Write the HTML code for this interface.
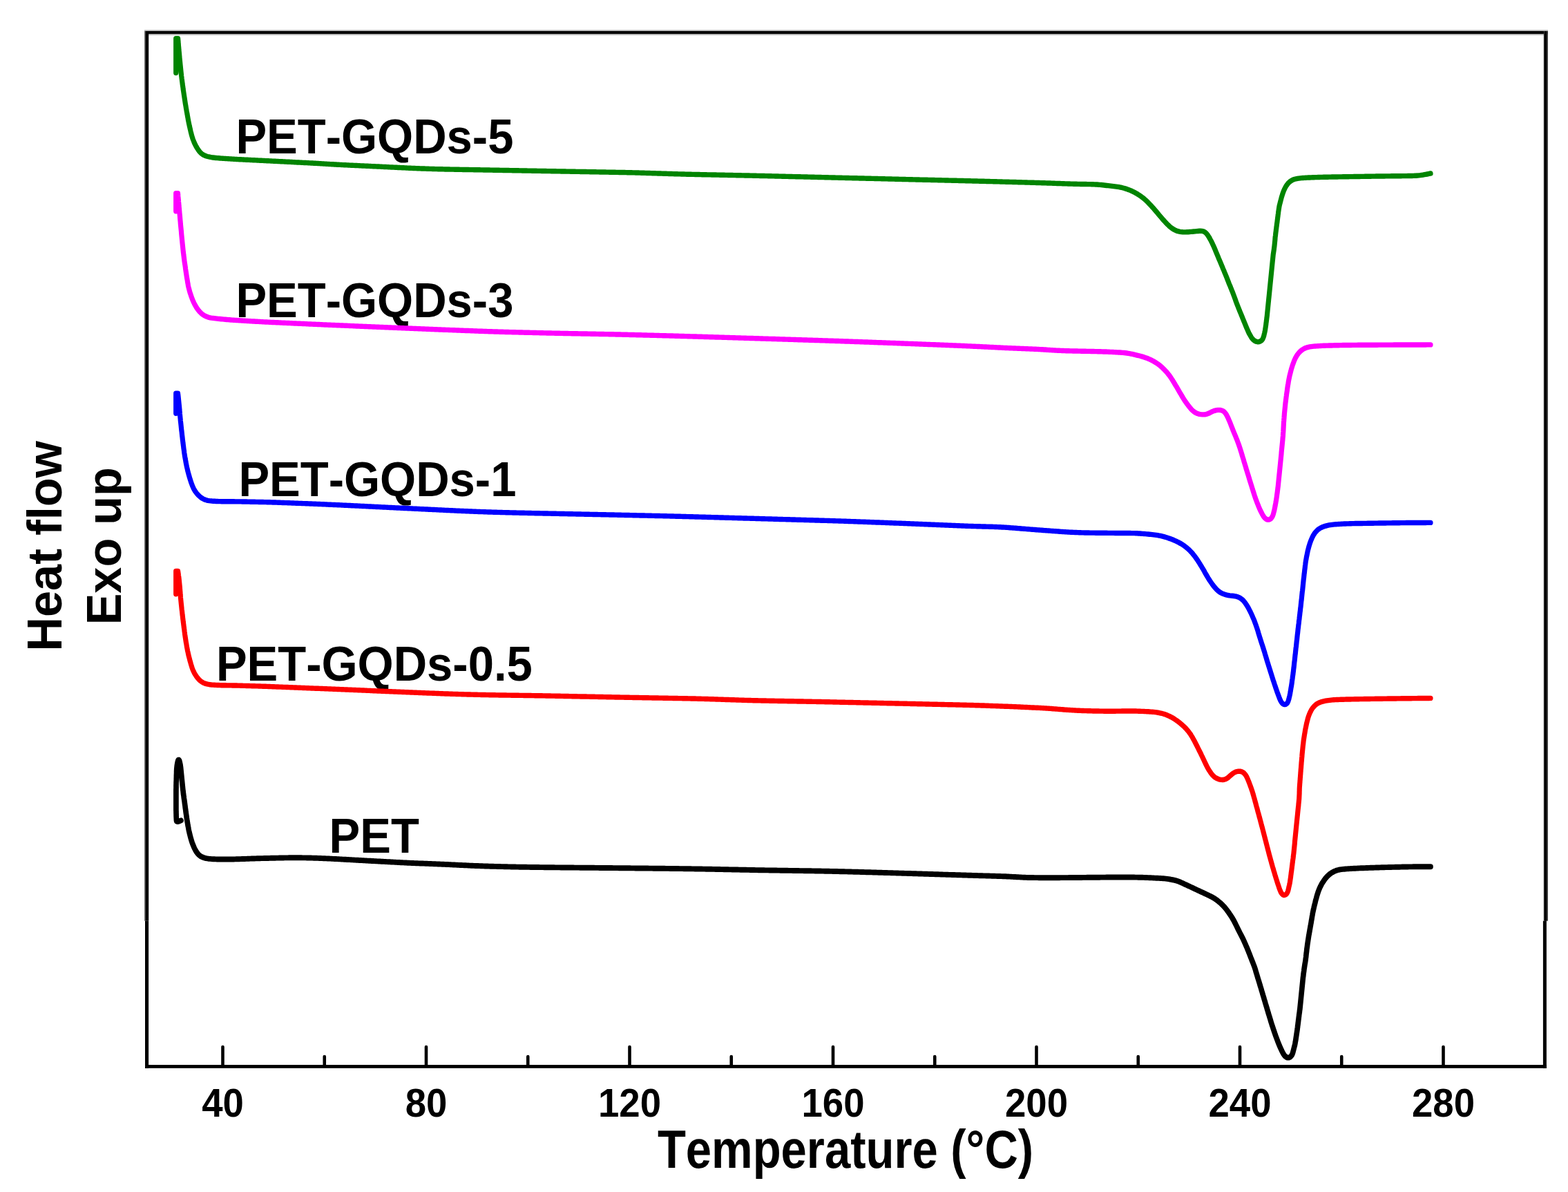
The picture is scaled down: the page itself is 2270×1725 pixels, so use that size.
<!DOCTYPE html>
<html lang="en">
<head>
<meta charset="utf-8">
<title>DSC heating curves of PET and PET-GQDs</title>
<style>
html,body{margin:0;padding:0;background:#fff;}
body{width:2270px;height:1725px;overflow:hidden;font-family:"Liberation Sans",Arial,sans-serif;}
svg{display:block;}
svg text{font-family:"Liberation Sans",Arial,sans-serif;font-weight:bold;fill:#000;font-kerning:none;}
</style>
</head>
<body>
<svg xmlns="http://www.w3.org/2000/svg" width="2270" height="1725" viewBox="0 0 2270 1725">
<rect x="0" y="0" width="2270" height="1725" fill="#ffffff"/>
<text transform="translate(341.40 221.60) scale(1.0000 1.0400)" font-size="67.00" text-anchor="start" >PET-GQDs-5</text>
<text transform="translate(341.40 459.20) scale(1.0000 1.0400)" font-size="67.00" text-anchor="start" >PET-GQDs-3</text>
<text transform="translate(345.40 717.60) scale(1.0000 1.0400)" font-size="67.00" text-anchor="start" >PET-GQDs-1</text>
<text transform="translate(312.90 985.20) scale(1.0000 1.0400)" font-size="67.00" text-anchor="start" >PET-GQDs-0.5</text>
<text transform="translate(476.60 1233.90) scale(1.0000 1.0400)" font-size="67.00" text-anchor="start" >PET</text>
<text transform="translate(322.50 1616.20) scale(0.9750 1.0400)" font-size="56.00" text-anchor="middle" >40</text>
<text transform="translate(617.00 1616.20) scale(0.9750 1.0400)" font-size="56.00" text-anchor="middle" >80</text>
<text transform="translate(911.50 1616.20) scale(0.9750 1.0400)" font-size="56.00" text-anchor="middle" >120</text>
<text transform="translate(1206.00 1616.20) scale(0.9750 1.0400)" font-size="56.00" text-anchor="middle" >160</text>
<text transform="translate(1500.50 1616.20) scale(0.9750 1.0400)" font-size="56.00" text-anchor="middle" >200</text>
<text transform="translate(1795.00 1616.20) scale(0.9750 1.0400)" font-size="56.00" text-anchor="middle" >240</text>
<text transform="translate(2089.50 1616.20) scale(0.9750 1.0400)" font-size="56.00" text-anchor="middle" >280</text>
<text transform="translate(1224.00 1689.50) scale(1.0000 1.1700)" font-size="67.00" text-anchor="middle" >Temperature (°C)</text>
<text transform="translate(88.60 790.30) rotate(-90) scale(1.0000 1.0350)" font-size="68.50" text-anchor="middle" >Heat flow</text>
<text transform="translate(175.20 790.20) rotate(-90) scale(1.0000 1.0350)" font-size="68.50" text-anchor="middle" >Exo up</text>
<defs><filter id="soft" x="-2%%" y="-2%%" width="104%%" height="104%%"><feGaussianBlur stdDeviation="0.75"/></filter></defs>
<g filter="url(#soft)"><g transform="scale(1 1.0300)" fill="none" stroke-width="7.20" stroke-linecap="round" stroke-linejoin="round">
<path d="M262.0 1152.82 L259.1 1153.95 L256.8 1154.50 L255.6 1153.84 L255.4 1151.93 L255.3 1150.01 L255.2 1148.08 L255.1 1146.15 L255.1 1144.21 L255.0 1142.27 L255.0 1140.32 L254.9 1138.38 L254.9 1136.44 L254.9 1134.50 L254.9 1132.56 L254.9 1130.62 L254.9 1128.67 L254.9 1126.73 L254.9 1124.79 L254.9 1122.85 L254.9 1120.91 L254.9 1118.97 L254.9 1117.02 L254.9 1115.08 L254.9 1113.14 L254.9 1111.20 L254.9 1109.26 L255.0 1107.32 L255.0 1105.37 L255.0 1103.43 L255.1 1101.49 L255.1 1099.55 L255.2 1097.61 L255.3 1095.67 L255.3 1093.73 L255.4 1091.79 L255.4 1089.84 L255.5 1087.90 L255.6 1085.97 L255.6 1084.03 L255.7 1082.09 L255.8 1080.15 L256.0 1078.21 L256.2 1076.26 L256.5 1074.25 L256.9 1072.21 L257.3 1070.22 L257.8 1068.57 L258.3 1067.60 L258.9 1067.56 L259.5 1068.46 L260.0 1070.09 L260.5 1072.15 L261.0 1074.35 L261.3 1076.51 L261.6 1078.57 L261.8 1080.55 L262.0 1082.50 L262.2 1084.43 L262.4 1086.36 L262.6 1088.29 L262.8 1090.23 L263.0 1092.16 L263.2 1094.09 L263.4 1096.02 L263.6 1097.96 L263.8 1099.89 L264.0 1101.82 L264.2 1103.75 L264.4 1105.69 L264.6 1107.62 L264.8 1109.55 L265.1 1111.48 L265.3 1113.40 L265.5 1115.33 L265.8 1117.26 L266.1 1119.18 L266.3 1121.11 L266.6 1123.03 L266.9 1124.95 L267.2 1126.88 L267.4 1128.80 L267.7 1130.72 L268.0 1132.65 L268.2 1134.57 L268.5 1136.50 L268.8 1138.42 L269.0 1140.35 L269.3 1142.27 L269.6 1144.19 L269.9 1146.12 L270.1 1148.04 L270.4 1149.96 L270.7 1151.88 L271.0 1153.80 L271.4 1155.71 L271.7 1157.63 L272.0 1159.54 L272.4 1161.45 L272.8 1163.36 L273.1 1165.27 L273.5 1167.17 L274.0 1169.07 L274.4 1170.96 L274.9 1172.85 L275.4 1174.73 L275.9 1176.61 L276.4 1178.48 L277.0 1180.34 L277.6 1182.19 L278.2 1184.03 L278.9 1185.85 L279.7 1187.66 L280.4 1189.46 L281.2 1191.23 L282.1 1192.97 L283.0 1194.68 L284.1 1196.34 L285.2 1197.96 L286.4 1199.50 L287.8 1200.92 L289.3 1202.19 L290.9 1203.27 L292.7 1204.16 L294.6 1204.88 L296.5 1205.45 L298.4 1205.90 L300.4 1206.24 L302.4 1206.50 L304.4 1206.71 L306.4 1206.88 L308.3 1207.01 L310.3 1207.11 L312.3 1207.18 L314.3 1207.23 L316.3 1207.26 L318.3 1207.29 L320.3 1207.32 L322.3 1207.34 L324.3 1207.35 L326.3 1207.36 L328.3 1207.36 L330.3 1207.34 L332.3 1207.32 L334.3 1207.29 L336.3 1207.25 L338.3 1207.20 L340.3 1207.15 L342.3 1207.09 L344.3 1207.03 L346.3 1206.97 L348.3 1206.91 L350.3 1206.85 L352.3 1206.78 L354.3 1206.72 L356.3 1206.65 L358.3 1206.59 L360.3 1206.52 L362.3 1206.45 L364.3 1206.39 L366.3 1206.33 L368.3 1206.26 L370.3 1206.20 L372.3 1206.14 L374.3 1206.09 L376.3 1206.03 L378.3 1205.98 L380.3 1205.93 L382.3 1205.88 L384.3 1205.83 L386.3 1205.78 L388.3 1205.74 L390.3 1205.69 L392.3 1205.64 L394.3 1205.60 L396.3 1205.55 L398.3 1205.51 L400.3 1205.47 L402.3 1205.43 L404.3 1205.39 L406.3 1205.35 L408.3 1205.32 L410.3 1205.28 L412.3 1205.25 L414.3 1205.23 L416.3 1205.20 L418.3 1205.18 L420.3 1205.16 L422.3 1205.15 L424.3 1205.14 L426.3 1205.13 L428.3 1205.13 L430.3 1205.13 L432.3 1205.14 L434.3 1205.15 L436.3 1205.16 L438.3 1205.19 L440.3 1205.21 L442.3 1205.24 L444.3 1205.28 L446.3 1205.32 L448.3 1205.36 L450.3 1205.41 L452.3 1205.46 L454.3 1205.52 L456.3 1205.58 L458.3 1205.64 L460.3 1205.71 L462.3 1205.78 L464.3 1205.85 L466.3 1205.93 L468.3 1206.01 L470.3 1206.09 L472.3 1206.18 L474.3 1206.27 L476.3 1206.36 L478.3 1206.45 L480.3 1206.55 L482.3 1206.65 L484.3 1206.75 L486.3 1206.85 L488.3 1206.95 L490.3 1207.06 L492.3 1207.16 L494.3 1207.27 L496.3 1207.38 L498.3 1207.48 L500.3 1207.59 L502.3 1207.70 L504.3 1207.81 L506.3 1207.91 L508.3 1208.02 L510.3 1208.13 L512.3 1208.24 L514.3 1208.35 L516.2 1208.45 L518.2 1208.56 L520.2 1208.67 L522.2 1208.78 L524.2 1208.89 L526.2 1208.99 L528.2 1209.10 L530.2 1209.21 L532.2 1209.32 L534.2 1209.42 L536.2 1209.53 L538.2 1209.63 L540.2 1209.74 L542.2 1209.85 L544.2 1209.95 L546.2 1210.06 L548.2 1210.16 L550.2 1210.27 L552.2 1210.37 L554.2 1210.48 L556.2 1210.58 L558.2 1210.69 L560.2 1210.79 L562.2 1210.90 L564.2 1211.00 L566.2 1211.10 L568.2 1211.21 L570.2 1211.31 L572.2 1211.42 L574.2 1211.52 L576.2 1211.62 L578.2 1211.72 L580.2 1211.82 L582.2 1211.92 L584.2 1212.02 L586.1 1212.12 L588.1 1212.21 L590.1 1212.31 L592.1 1212.40 L594.1 1212.49 L596.1 1212.57 L598.1 1212.66 L600.1 1212.74 L602.1 1212.82 L604.1 1212.89 L606.1 1212.97 L608.1 1213.04 L610.1 1213.11 L612.1 1213.19 L614.1 1213.26 L616.1 1213.33 L618.1 1213.40 L620.1 1213.47 L622.1 1213.54 L624.1 1213.61 L626.1 1213.69 L628.1 1213.76 L630.1 1213.84 L632.1 1213.92 L634.1 1214.00 L636.1 1214.08 L638.1 1214.17 L640.1 1214.25 L642.1 1214.34 L644.1 1214.43 L646.1 1214.53 L648.1 1214.62 L650.1 1214.71 L652.1 1214.81 L654.1 1214.90 L656.1 1215.00 L658.1 1215.09 L660.1 1215.19 L662.1 1215.28 L664.1 1215.38 L666.1 1215.47 L668.1 1215.57 L670.1 1215.66 L672.1 1215.75 L674.1 1215.85 L676.1 1215.93 L678.1 1216.02 L680.1 1216.11 L682.1 1216.19 L684.1 1216.27 L686.1 1216.35 L688.1 1216.43 L690.1 1216.50 L692.1 1216.58 L694.1 1216.65 L696.1 1216.72 L698.1 1216.78 L700.1 1216.85 L702.0 1216.91 L704.0 1216.98 L706.0 1217.04 L708.0 1217.10 L710.0 1217.16 L712.0 1217.22 L714.0 1217.27 L716.0 1217.33 L718.0 1217.38 L720.0 1217.43 L722.0 1217.48 L724.0 1217.53 L726.0 1217.58 L728.0 1217.63 L730.0 1217.68 L732.0 1217.72 L734.0 1217.77 L736.0 1217.81 L738.0 1217.85 L740.0 1217.89 L742.0 1217.93 L744.0 1217.97 L746.0 1218.01 L748.0 1218.05 L750.0 1218.08 L752.0 1218.12 L754.0 1218.15 L756.0 1218.19 L758.0 1218.22 L760.0 1218.25 L762.0 1218.28 L764.0 1218.31 L766.0 1218.34 L768.0 1218.37 L770.0 1218.40 L772.0 1218.43 L774.0 1218.45 L776.0 1218.48 L778.0 1218.50 L780.0 1218.53 L782.0 1218.55 L784.0 1218.57 L786.0 1218.60 L788.0 1218.62 L790.0 1218.64 L792.0 1218.66 L794.0 1218.68 L796.0 1218.70 L798.0 1218.72 L800.0 1218.74 L802.0 1218.76 L804.0 1218.78 L806.0 1218.80 L808.0 1218.82 L810.0 1218.84 L812.0 1218.85 L814.0 1218.87 L816.0 1218.89 L818.0 1218.91 L820.0 1218.93 L822.0 1218.94 L824.0 1218.96 L826.0 1218.98 L828.0 1218.99 L830.0 1219.01 L832.0 1219.03 L834.0 1219.04 L836.0 1219.06 L838.0 1219.08 L840.0 1219.09 L842.0 1219.11 L844.0 1219.13 L846.0 1219.14 L848.0 1219.16 L850.0 1219.18 L852.0 1219.19 L854.0 1219.21 L856.0 1219.23 L858.0 1219.24 L860.0 1219.26 L862.0 1219.28 L864.0 1219.29 L866.0 1219.31 L868.0 1219.33 L870.0 1219.35 L872.0 1219.36 L874.0 1219.38 L876.0 1219.40 L878.0 1219.42 L880.0 1219.43 L882.0 1219.45 L884.0 1219.47 L886.0 1219.49 L888.0 1219.51 L890.0 1219.52 L892.0 1219.54 L894.0 1219.56 L896.0 1219.58 L898.0 1219.60 L900.0 1219.62 L902.0 1219.64 L904.0 1219.66 L906.0 1219.68 L908.0 1219.70 L910.0 1219.72 L912.0 1219.74 L914.0 1219.76 L916.0 1219.78 L918.0 1219.80 L920.0 1219.82 L922.0 1219.84 L924.0 1219.85 L926.0 1219.87 L928.0 1219.89 L930.0 1219.91 L932.0 1219.93 L934.0 1219.95 L936.0 1219.97 L938.0 1219.99 L940.0 1220.01 L942.0 1220.03 L944.0 1220.05 L946.0 1220.07 L948.0 1220.09 L950.0 1220.11 L952.0 1220.13 L954.0 1220.15 L956.0 1220.17 L958.0 1220.19 L960.0 1220.21 L962.0 1220.23 L964.0 1220.26 L966.0 1220.28 L968.0 1220.30 L970.0 1220.32 L972.0 1220.35 L974.0 1220.37 L976.0 1220.39 L978.0 1220.42 L980.0 1220.44 L982.0 1220.46 L984.0 1220.49 L986.0 1220.51 L988.0 1220.54 L990.0 1220.57 L992.0 1220.59 L994.0 1220.62 L996.0 1220.65 L998.0 1220.67 L1000.0 1220.70 L1002.0 1220.73 L1004.0 1220.76 L1006.0 1220.79 L1008.0 1220.82 L1010.0 1220.85 L1012.0 1220.88 L1014.0 1220.92 L1016.0 1220.95 L1018.0 1220.98 L1020.0 1221.02 L1022.0 1221.05 L1024.0 1221.09 L1026.0 1221.12 L1028.0 1221.16 L1030.0 1221.20 L1032.0 1221.23 L1034.0 1221.27 L1036.0 1221.31 L1038.0 1221.35 L1040.0 1221.38 L1042.0 1221.42 L1044.0 1221.46 L1046.0 1221.50 L1048.0 1221.54 L1050.0 1221.58 L1052.0 1221.62 L1054.0 1221.66 L1056.0 1221.69 L1058.0 1221.73 L1060.0 1221.77 L1062.0 1221.81 L1064.0 1221.85 L1066.0 1221.89 L1068.0 1221.93 L1070.0 1221.97 L1072.0 1222.01 L1074.0 1222.05 L1076.0 1222.08 L1078.0 1222.12 L1080.0 1222.16 L1082.0 1222.20 L1084.0 1222.24 L1086.0 1222.27 L1088.0 1222.31 L1090.0 1222.35 L1092.0 1222.38 L1094.0 1222.42 L1096.0 1222.45 L1098.0 1222.49 L1100.0 1222.52 L1102.0 1222.56 L1104.0 1222.59 L1106.0 1222.62 L1108.0 1222.66 L1110.0 1222.69 L1112.0 1222.72 L1114.0 1222.75 L1116.0 1222.78 L1118.0 1222.81 L1120.0 1222.84 L1122.0 1222.87 L1124.0 1222.90 L1126.0 1222.93 L1128.0 1222.96 L1130.0 1222.99 L1132.0 1223.02 L1134.0 1223.05 L1136.0 1223.07 L1138.0 1223.10 L1140.0 1223.13 L1142.0 1223.16 L1144.0 1223.19 L1146.0 1223.21 L1148.0 1223.24 L1150.0 1223.27 L1152.0 1223.30 L1154.0 1223.33 L1156.0 1223.36 L1158.0 1223.39 L1160.0 1223.41 L1162.0 1223.44 L1164.0 1223.47 L1166.0 1223.50 L1168.0 1223.53 L1170.0 1223.57 L1172.0 1223.60 L1174.0 1223.63 L1176.0 1223.66 L1178.0 1223.69 L1180.0 1223.73 L1182.0 1223.76 L1184.0 1223.79 L1186.0 1223.83 L1188.0 1223.86 L1190.0 1223.90 L1192.0 1223.94 L1194.0 1223.97 L1196.0 1224.01 L1198.0 1224.05 L1200.0 1224.09 L1202.0 1224.13 L1204.0 1224.17 L1206.0 1224.21 L1208.0 1224.25 L1210.0 1224.30 L1212.0 1224.34 L1214.0 1224.39 L1216.0 1224.43 L1218.0 1224.48 L1220.0 1224.52 L1222.0 1224.57 L1224.0 1224.62 L1226.0 1224.67 L1228.0 1224.72 L1230.0 1224.77 L1232.0 1224.82 L1234.0 1224.87 L1236.0 1224.92 L1238.0 1224.97 L1240.0 1225.02 L1242.0 1225.07 L1244.0 1225.13 L1246.0 1225.18 L1248.0 1225.23 L1250.0 1225.29 L1252.0 1225.34 L1254.0 1225.40 L1256.0 1225.45 L1258.0 1225.51 L1260.0 1225.56 L1262.0 1225.62 L1264.0 1225.68 L1266.0 1225.73 L1268.0 1225.79 L1270.0 1225.85 L1272.0 1225.91 L1274.0 1225.96 L1276.0 1226.02 L1278.0 1226.08 L1280.0 1226.14 L1282.0 1226.20 L1284.0 1226.26 L1286.0 1226.31 L1288.0 1226.37 L1290.0 1226.43 L1292.0 1226.49 L1294.0 1226.55 L1296.0 1226.61 L1298.0 1226.67 L1300.0 1226.73 L1302.0 1226.79 L1304.0 1226.85 L1306.0 1226.91 L1308.0 1226.97 L1310.0 1227.03 L1312.0 1227.09 L1314.0 1227.15 L1316.0 1227.21 L1318.0 1227.27 L1320.0 1227.33 L1322.0 1227.39 L1324.0 1227.45 L1326.0 1227.51 L1328.0 1227.57 L1330.0 1227.63 L1332.0 1227.69 L1334.0 1227.75 L1336.0 1227.81 L1338.0 1227.87 L1340.0 1227.93 L1342.0 1227.99 L1344.0 1228.06 L1346.0 1228.12 L1348.0 1228.18 L1350.0 1228.24 L1352.0 1228.30 L1354.0 1228.36 L1356.0 1228.42 L1358.0 1228.48 L1360.0 1228.54 L1362.0 1228.60 L1364.0 1228.66 L1366.0 1228.73 L1368.0 1228.79 L1370.0 1228.85 L1372.0 1228.91 L1374.0 1228.97 L1376.0 1229.03 L1378.0 1229.09 L1380.0 1229.15 L1381.9 1229.21 L1383.9 1229.27 L1385.9 1229.33 L1387.9 1229.39 L1389.9 1229.45 L1391.9 1229.51 L1393.9 1229.57 L1395.9 1229.63 L1397.9 1229.69 L1399.9 1229.75 L1401.9 1229.81 L1403.9 1229.87 L1405.9 1229.93 L1407.9 1229.98 L1409.9 1230.04 L1411.9 1230.10 L1413.9 1230.15 L1415.9 1230.21 L1417.9 1230.27 L1419.9 1230.32 L1421.9 1230.38 L1423.9 1230.43 L1425.9 1230.49 L1427.9 1230.54 L1429.9 1230.60 L1431.9 1230.66 L1433.9 1230.71 L1435.9 1230.77 L1437.9 1230.82 L1439.9 1230.88 L1441.9 1230.93 L1443.9 1230.99 L1445.9 1231.05 L1447.9 1231.11 L1449.9 1231.17 L1451.9 1231.24 L1453.9 1231.31 L1455.9 1231.39 L1457.9 1231.48 L1459.9 1231.58 L1461.9 1231.68 L1463.9 1231.78 L1465.9 1231.89 L1467.9 1232.00 L1469.9 1232.11 L1471.9 1232.22 L1473.9 1232.33 L1475.9 1232.44 L1477.9 1232.54 L1479.9 1232.63 L1481.9 1232.72 L1483.9 1232.80 L1485.9 1232.87 L1487.9 1232.93 L1489.9 1232.98 L1491.9 1233.02 L1493.9 1233.06 L1495.9 1233.09 L1497.9 1233.12 L1499.9 1233.14 L1501.9 1233.16 L1503.9 1233.18 L1505.9 1233.19 L1507.9 1233.20 L1509.9 1233.21 L1511.9 1233.22 L1513.9 1233.22 L1515.9 1233.23 L1517.9 1233.23 L1519.9 1233.23 L1521.9 1233.22 L1523.9 1233.22 L1525.9 1233.21 L1527.9 1233.20 L1529.9 1233.20 L1531.9 1233.19 L1533.9 1233.18 L1535.9 1233.16 L1537.9 1233.15 L1539.9 1233.14 L1541.9 1233.13 L1543.9 1233.11 L1545.9 1233.10 L1547.9 1233.09 L1549.9 1233.07 L1551.9 1233.05 L1553.9 1233.04 L1555.9 1233.02 L1557.9 1233.00 L1559.9 1232.98 L1561.9 1232.96 L1563.9 1232.94 L1565.9 1232.93 L1567.9 1232.90 L1569.9 1232.88 L1571.9 1232.86 L1573.9 1232.84 L1575.9 1232.82 L1577.9 1232.80 L1579.9 1232.78 L1581.9 1232.76 L1583.9 1232.75 L1585.9 1232.73 L1587.9 1232.71 L1589.9 1232.69 L1591.9 1232.68 L1593.9 1232.66 L1595.9 1232.65 L1597.9 1232.63 L1599.9 1232.62 L1601.9 1232.61 L1603.9 1232.59 L1605.9 1232.58 L1607.9 1232.57 L1609.9 1232.56 L1611.9 1232.55 L1613.9 1232.54 L1615.9 1232.53 L1617.9 1232.52 L1619.9 1232.51 L1621.9 1232.51 L1623.9 1232.51 L1625.9 1232.51 L1627.9 1232.51 L1629.9 1232.51 L1631.9 1232.52 L1633.9 1232.53 L1635.9 1232.54 L1637.9 1232.56 L1639.9 1232.58 L1641.9 1232.60 L1643.9 1232.63 L1645.9 1232.66 L1647.9 1232.70 L1649.9 1232.74 L1651.9 1232.78 L1653.9 1232.84 L1655.9 1232.90 L1657.9 1232.97 L1659.9 1233.04 L1661.9 1233.13 L1663.9 1233.22 L1665.9 1233.31 L1667.9 1233.40 L1669.9 1233.49 L1671.9 1233.58 L1673.9 1233.68 L1675.9 1233.77 L1677.9 1233.87 L1679.9 1233.98 L1681.9 1234.09 L1683.9 1234.23 L1685.8 1234.39 L1687.8 1234.60 L1689.8 1234.84 L1691.8 1235.13 L1693.8 1235.45 L1695.7 1235.79 L1697.7 1236.17 L1699.7 1236.57 L1701.6 1237.03 L1703.6 1237.55 L1705.4 1238.16 L1707.3 1238.84 L1709.2 1239.59 L1711.0 1240.39 L1712.8 1241.20 L1714.6 1242.02 L1716.4 1242.84 L1718.2 1243.66 L1720.0 1244.48 L1721.9 1245.30 L1723.7 1246.12 L1725.5 1246.94 L1727.3 1247.77 L1729.1 1248.59 L1730.9 1249.41 L1732.7 1250.23 L1734.5 1251.05 L1736.4 1251.87 L1738.2 1252.68 L1740.0 1253.50 L1741.8 1254.31 L1743.6 1255.13 L1745.4 1255.95 L1747.2 1256.78 L1749.0 1257.62 L1750.8 1258.47 L1752.6 1259.35 L1754.4 1260.25 L1756.1 1261.18 L1757.9 1262.17 L1759.5 1263.22 L1761.2 1264.34 L1762.8 1265.51 L1764.3 1266.73 L1765.9 1267.98 L1767.4 1269.28 L1768.8 1270.61 L1770.3 1271.97 L1771.6 1273.38 L1773.0 1274.83 L1774.3 1276.31 L1775.5 1277.83 L1776.7 1279.37 L1777.9 1280.93 L1779.1 1282.51 L1780.2 1284.11 L1781.3 1285.72 L1782.4 1287.35 L1783.5 1289.00 L1784.5 1290.66 L1785.5 1292.34 L1786.5 1294.05 L1787.4 1295.77 L1788.3 1297.51 L1789.2 1299.25 L1790.1 1300.99 L1791.0 1302.72 L1791.8 1304.46 L1792.7 1306.20 L1793.6 1307.93 L1794.5 1309.67 L1795.4 1311.40 L1796.3 1313.13 L1797.3 1314.86 L1798.2 1316.59 L1799.1 1318.33 L1799.9 1320.07 L1800.8 1321.83 L1801.6 1323.59 L1802.4 1325.37 L1803.2 1327.15 L1804.0 1328.94 L1804.8 1330.72 L1805.6 1332.51 L1806.3 1334.31 L1807.1 1336.10 L1807.8 1337.91 L1808.6 1339.71 L1809.3 1341.52 L1810.0 1343.33 L1810.7 1345.14 L1811.5 1346.96 L1812.2 1348.77 L1812.9 1350.58 L1813.7 1352.38 L1814.4 1354.19 L1815.1 1356.00 L1815.8 1357.81 L1816.5 1359.65 L1817.1 1361.49 L1817.7 1363.35 L1818.2 1365.21 L1818.8 1367.07 L1819.4 1368.93 L1820.0 1370.79 L1820.5 1372.65 L1821.1 1374.51 L1821.7 1376.36 L1822.3 1378.22 L1822.9 1380.08 L1823.5 1381.94 L1824.0 1383.80 L1824.6 1385.66 L1825.2 1387.52 L1825.8 1389.38 L1826.3 1391.24 L1826.9 1393.10 L1827.5 1394.96 L1828.0 1396.82 L1828.6 1398.68 L1829.2 1400.55 L1829.8 1402.41 L1830.3 1404.27 L1830.9 1406.13 L1831.5 1407.99 L1832.0 1409.85 L1832.6 1411.71 L1833.2 1413.57 L1833.8 1415.43 L1834.3 1417.29 L1834.9 1419.15 L1835.5 1421.01 L1836.0 1422.87 L1836.6 1424.73 L1837.2 1426.59 L1837.8 1428.45 L1838.4 1430.31 L1839.0 1432.16 L1839.5 1434.02 L1840.1 1435.88 L1840.7 1437.73 L1841.3 1439.58 L1841.9 1441.43 L1842.6 1443.28 L1843.2 1445.12 L1843.8 1446.96 L1844.5 1448.80 L1845.1 1450.63 L1845.8 1452.47 L1846.4 1454.30 L1847.1 1456.13 L1847.8 1457.95 L1848.5 1459.78 L1849.2 1461.59 L1849.9 1463.41 L1850.6 1465.22 L1851.4 1467.02 L1852.1 1468.82 L1852.9 1470.60 L1853.7 1472.37 L1854.6 1474.13 L1855.4 1475.88 L1856.3 1477.62 L1857.2 1479.32 L1858.2 1480.98 L1859.3 1482.56 L1860.6 1484.00 L1862.1 1485.19 L1863.8 1485.93 L1865.5 1486.05 L1867.2 1485.49 L1868.7 1484.36 L1869.9 1482.86 L1870.8 1481.15 L1871.5 1479.37 L1872.0 1477.54 L1872.5 1475.68 L1873.0 1473.80 L1873.5 1471.92 L1874.0 1470.04 L1874.5 1468.15 L1874.9 1466.25 L1875.2 1464.34 L1875.6 1462.43 L1875.9 1460.52 L1876.2 1458.60 L1876.5 1456.68 L1876.8 1454.76 L1877.1 1452.84 L1877.4 1450.92 L1877.7 1448.99 L1878.0 1447.07 L1878.2 1445.15 L1878.5 1443.22 L1878.7 1441.29 L1879.0 1439.37 L1879.2 1437.44 L1879.5 1435.52 L1879.7 1433.59 L1880.0 1431.66 L1880.2 1429.74 L1880.5 1427.81 L1880.7 1425.88 L1881.0 1423.96 L1881.3 1422.03 L1881.5 1420.10 L1881.8 1418.18 L1882.0 1416.25 L1882.2 1414.32 L1882.4 1412.39 L1882.6 1410.46 L1882.8 1408.53 L1883.0 1406.59 L1883.2 1404.66 L1883.4 1402.73 L1883.6 1400.80 L1883.8 1398.86 L1884.0 1396.93 L1884.2 1395.00 L1884.4 1393.07 L1884.6 1391.14 L1884.8 1389.20 L1885.0 1387.27 L1885.2 1385.34 L1885.4 1383.41 L1885.6 1381.47 L1885.8 1379.54 L1886.0 1377.61 L1886.2 1375.68 L1886.4 1373.75 L1886.7 1371.82 L1886.9 1369.89 L1887.1 1367.96 L1887.4 1366.04 L1887.7 1364.11 L1887.9 1362.19 L1888.2 1360.26 L1888.5 1358.34 L1888.8 1356.42 L1889.1 1354.51 L1889.5 1352.59 L1889.8 1350.68 L1890.1 1348.75 L1890.3 1346.83 L1890.6 1344.90 L1890.8 1342.97 L1891.0 1341.04 L1891.2 1339.11 L1891.5 1337.18 L1891.7 1335.25 L1891.9 1333.33 L1892.2 1331.40 L1892.5 1329.48 L1892.7 1327.55 L1893.0 1325.63 L1893.3 1323.71 L1893.6 1321.79 L1893.9 1319.87 L1894.2 1317.95 L1894.5 1316.03 L1894.8 1314.11 L1895.2 1312.20 L1895.5 1310.29 L1895.9 1308.37 L1896.2 1306.46 L1896.6 1304.55 L1896.9 1302.64 L1897.3 1300.73 L1897.6 1298.81 L1898.0 1296.90 L1898.3 1294.99 L1898.6 1293.07 L1899.0 1291.16 L1899.3 1289.24 L1899.6 1287.33 L1900.0 1285.41 L1900.3 1283.50 L1900.7 1281.60 L1901.1 1279.69 L1901.5 1277.80 L1902.0 1275.90 L1902.4 1274.01 L1902.9 1272.13 L1903.4 1270.24 L1903.9 1268.35 L1904.3 1266.47 L1904.8 1264.59 L1905.4 1262.72 L1905.9 1260.84 L1906.4 1258.97 L1907.0 1257.11 L1907.6 1255.26 L1908.2 1253.42 L1908.9 1251.60 L1909.6 1249.79 L1910.4 1248.00 L1911.2 1246.23 L1912.1 1244.48 L1913.0 1242.76 L1914.0 1241.08 L1915.1 1239.42 L1916.2 1237.80 L1917.3 1236.21 L1918.5 1234.65 L1919.8 1233.15 L1921.1 1231.70 L1922.5 1230.31 L1924.0 1228.99 L1925.5 1227.77 L1927.2 1226.65 L1928.9 1225.63 L1930.6 1224.71 L1932.5 1223.88 L1934.3 1223.16 L1936.2 1222.57 L1938.2 1222.10 L1940.1 1221.75 L1942.1 1221.48 L1944.1 1221.26 L1946.1 1221.06 L1948.1 1220.89 L1950.1 1220.75 L1952.0 1220.62 L1954.0 1220.50 L1956.0 1220.39 L1958.0 1220.29 L1960.0 1220.18 L1962.0 1220.08 L1964.0 1219.99 L1966.0 1219.90 L1968.0 1219.81 L1970.0 1219.73 L1972.0 1219.66 L1974.0 1219.59 L1976.0 1219.52 L1978.0 1219.45 L1980.0 1219.38 L1982.0 1219.32 L1984.0 1219.25 L1986.0 1219.19 L1988.0 1219.12 L1990.0 1219.06 L1992.0 1219.00 L1994.0 1218.94 L1996.0 1218.88 L1998.0 1218.82 L2000.0 1218.77 L2002.0 1218.71 L2004.0 1218.66 L2006.0 1218.60 L2008.0 1218.55 L2010.0 1218.50 L2012.0 1218.45 L2014.0 1218.40 L2016.0 1218.35 L2018.0 1218.30 L2020.0 1218.25 L2022.0 1218.21 L2024.0 1218.16 L2026.0 1218.12 L2028.0 1218.08 L2030.0 1218.04 L2032.0 1218.00 L2034.0 1217.96 L2036.0 1217.92 L2038.0 1217.89 L2040.0 1217.86 L2042.0 1217.83 L2044.0 1217.81 L2046.0 1217.79 L2048.0 1217.77 L2050.0 1217.75 L2052.0 1217.73 L2054.0 1217.72 L2056.0 1217.71 L2058.0 1217.70 L2060.0 1217.69 L2062.0 1217.68 L2064.0 1217.68 L2066.0 1217.67 L2067.9 1217.67 L2069.9 1217.67 L2071.0 1217.67" stroke="#000000" stroke-width="7.7"/>
<path d="M254.7 834.66 L254.7 802.43 L257.6 802.43 L257.9 804.35 L258.2 806.27 L258.4 808.20 L258.7 810.13 L259.0 812.05 L259.2 813.98 L259.4 815.91 L259.6 817.84 L259.8 819.77 L260.0 821.71 L260.2 823.64 L260.4 825.58 L260.5 827.51 L260.7 829.45 L260.8 831.39 L261.0 833.33 L261.1 835.26 L261.3 837.20 L261.4 839.14 L261.6 841.07 L261.8 843.00 L262.0 844.94 L262.2 846.87 L262.4 848.80 L262.6 850.73 L262.8 852.66 L263.0 854.59 L263.2 856.53 L263.5 858.46 L263.7 860.39 L263.9 862.32 L264.1 864.25 L264.4 866.18 L264.6 868.10 L264.8 870.03 L265.1 871.96 L265.3 873.89 L265.6 875.82 L265.8 877.74 L266.1 879.67 L266.3 881.60 L266.6 883.52 L266.9 885.45 L267.1 887.38 L267.4 889.30 L267.6 891.23 L267.9 893.15 L268.2 895.07 L268.5 896.99 L268.8 898.91 L269.1 900.83 L269.4 902.75 L269.8 904.66 L270.1 906.58 L270.4 908.49 L270.8 910.41 L271.2 912.32 L271.5 914.22 L272.0 916.12 L272.4 918.02 L272.8 919.91 L273.3 921.80 L273.8 923.68 L274.3 925.56 L274.8 927.44 L275.3 929.32 L275.9 931.19 L276.4 933.06 L277.0 934.92 L277.6 936.77 L278.2 938.60 L278.9 940.43 L279.7 942.22 L280.5 943.99 L281.4 945.71 L282.4 947.39 L283.5 949.04 L284.6 950.66 L285.8 952.23 L287.1 953.72 L288.4 955.14 L289.9 956.45 L291.5 957.64 L293.2 958.69 L295.0 959.58 L296.8 960.29 L298.7 960.85 L300.7 961.28 L302.7 961.61 L304.6 961.88 L306.6 962.10 L308.6 962.27 L310.6 962.40 L312.6 962.51 L314.6 962.61 L316.6 962.69 L318.6 962.76 L320.6 962.81 L322.6 962.86 L324.6 962.89 L326.6 962.92 L328.6 962.95 L330.6 962.97 L332.6 963.00 L334.6 963.02 L336.6 963.05 L338.6 963.09 L340.6 963.13 L342.6 963.17 L344.6 963.22 L346.6 963.27 L348.6 963.32 L350.6 963.37 L352.6 963.43 L354.6 963.48 L356.6 963.53 L358.6 963.59 L360.6 963.64 L362.6 963.70 L364.6 963.76 L366.6 963.81 L368.6 963.87 L370.6 963.93 L372.6 963.99 L374.6 964.05 L376.6 964.12 L378.6 964.18 L380.6 964.25 L382.6 964.32 L384.6 964.39 L386.6 964.46 L388.6 964.53 L390.6 964.61 L392.6 964.68 L394.6 964.76 L396.6 964.83 L398.6 964.91 L400.6 964.99 L402.6 965.06 L404.6 965.14 L406.6 965.21 L408.6 965.29 L410.6 965.37 L412.6 965.44 L414.6 965.52 L416.6 965.60 L418.6 965.68 L420.6 965.75 L422.6 965.83 L424.6 965.91 L426.6 965.98 L428.6 966.06 L430.6 966.14 L432.6 966.22 L434.6 966.30 L436.6 966.37 L438.6 966.45 L440.6 966.53 L442.6 966.61 L444.6 966.69 L446.6 966.76 L448.6 966.84 L450.6 966.92 L452.6 967.00 L454.6 967.08 L456.6 967.16 L458.6 967.24 L460.6 967.31 L462.6 967.39 L464.6 967.47 L466.6 967.55 L468.6 967.63 L470.6 967.71 L472.6 967.79 L474.6 967.87 L476.6 967.95 L478.6 968.03 L480.6 968.11 L482.6 968.19 L484.6 968.27 L486.6 968.35 L488.6 968.43 L490.6 968.51 L492.6 968.59 L494.5 968.67 L496.5 968.75 L498.5 968.83 L500.5 968.91 L502.5 968.99 L504.5 969.08 L506.5 969.16 L508.5 969.24 L510.5 969.32 L512.5 969.40 L514.5 969.48 L516.5 969.57 L518.5 969.65 L520.5 969.73 L522.5 969.81 L524.5 969.90 L526.5 969.98 L528.5 970.06 L530.5 970.14 L532.5 970.23 L534.5 970.31 L536.5 970.39 L538.5 970.47 L540.5 970.56 L542.5 970.64 L544.5 970.72 L546.5 970.80 L548.5 970.89 L550.5 970.97 L552.5 971.05 L554.5 971.13 L556.5 971.22 L558.5 971.30 L560.5 971.38 L562.5 971.46 L564.5 971.55 L566.5 971.63 L568.5 971.71 L570.5 971.79 L572.5 971.87 L574.5 971.96 L576.5 972.04 L578.5 972.12 L580.5 972.20 L582.5 972.28 L584.5 972.36 L586.5 972.44 L588.5 972.52 L590.5 972.60 L592.5 972.69 L594.5 972.77 L596.5 972.85 L598.5 972.93 L600.5 973.01 L602.5 973.09 L604.5 973.17 L606.5 973.25 L608.5 973.33 L610.5 973.41 L612.5 973.48 L614.5 973.56 L616.5 973.64 L618.5 973.72 L620.5 973.80 L622.5 973.87 L624.5 973.95 L626.5 974.03 L628.5 974.10 L630.5 974.18 L632.5 974.25 L634.5 974.32 L636.5 974.40 L638.5 974.47 L640.5 974.54 L642.5 974.61 L644.5 974.68 L646.5 974.75 L648.5 974.82 L650.5 974.89 L652.5 974.96 L654.5 975.02 L656.5 975.09 L658.5 975.15 L660.5 975.22 L662.5 975.28 L664.5 975.34 L666.5 975.40 L668.5 975.46 L670.5 975.52 L672.5 975.57 L674.5 975.63 L676.5 975.68 L678.5 975.74 L680.5 975.79 L682.5 975.84 L684.5 975.89 L686.5 975.94 L688.5 975.98 L690.5 976.03 L692.5 976.07 L694.5 976.12 L696.5 976.16 L698.5 976.20 L700.5 976.24 L702.5 976.28 L704.5 976.31 L706.5 976.35 L708.5 976.39 L710.5 976.42 L712.5 976.46 L714.5 976.49 L716.5 976.52 L718.5 976.56 L720.5 976.59 L722.5 976.62 L724.5 976.65 L726.5 976.68 L728.5 976.71 L730.5 976.74 L732.5 976.77 L734.5 976.80 L736.5 976.82 L738.5 976.85 L740.5 976.88 L742.5 976.91 L744.5 976.93 L746.5 976.96 L748.5 976.99 L750.5 977.02 L752.5 977.04 L754.5 977.07 L756.5 977.10 L758.5 977.12 L760.5 977.15 L762.5 977.18 L764.5 977.21 L766.5 977.23 L768.5 977.26 L770.5 977.29 L772.5 977.32 L774.5 977.35 L776.5 977.38 L778.5 977.41 L780.5 977.44 L782.5 977.47 L784.5 977.50 L786.5 977.54 L788.5 977.57 L790.5 977.60 L792.5 977.64 L794.5 977.67 L796.5 977.71 L798.5 977.75 L800.5 977.79 L802.5 977.82 L804.5 977.86 L806.5 977.90 L808.5 977.94 L810.5 977.98 L812.5 978.02 L814.5 978.06 L816.5 978.10 L818.5 978.13 L820.5 978.17 L822.5 978.21 L824.5 978.25 L826.5 978.29 L828.5 978.33 L830.5 978.37 L832.5 978.41 L834.5 978.45 L836.5 978.49 L838.5 978.53 L840.5 978.57 L842.5 978.61 L844.5 978.65 L846.5 978.69 L848.5 978.72 L850.5 978.76 L852.5 978.80 L854.5 978.84 L856.5 978.88 L858.5 978.92 L860.5 978.96 L862.5 979.00 L864.5 979.04 L866.5 979.08 L868.5 979.12 L870.5 979.16 L872.5 979.20 L874.5 979.24 L876.5 979.27 L878.5 979.31 L880.5 979.35 L882.5 979.39 L884.5 979.43 L886.5 979.47 L888.5 979.51 L890.5 979.55 L892.5 979.58 L894.5 979.62 L896.5 979.66 L898.5 979.70 L900.5 979.74 L902.5 979.77 L904.5 979.81 L906.5 979.85 L908.5 979.89 L910.5 979.92 L912.5 979.96 L914.5 979.99 L916.5 980.03 L918.5 980.06 L920.5 980.10 L922.5 980.13 L924.5 980.17 L926.5 980.20 L928.5 980.24 L930.5 980.27 L932.5 980.31 L934.5 980.34 L936.5 980.37 L938.5 980.41 L940.5 980.44 L942.5 980.47 L944.5 980.51 L946.5 980.54 L948.5 980.57 L950.5 980.61 L952.5 980.64 L954.5 980.68 L956.5 980.71 L958.5 980.74 L960.5 980.78 L962.5 980.81 L964.5 980.84 L966.5 980.88 L968.5 980.91 L970.5 980.95 L972.5 980.98 L974.5 981.02 L976.5 981.05 L978.5 981.09 L980.5 981.12 L982.5 981.16 L984.5 981.19 L986.5 981.23 L988.5 981.27 L990.5 981.31 L992.5 981.34 L994.5 981.38 L996.5 981.42 L998.5 981.46 L1000.5 981.50 L1002.5 981.54 L1004.5 981.58 L1006.5 981.63 L1008.5 981.68 L1010.5 981.73 L1012.5 981.78 L1014.5 981.83 L1016.5 981.88 L1018.5 981.94 L1020.5 981.99 L1022.5 982.05 L1024.5 982.11 L1026.5 982.17 L1028.5 982.23 L1030.5 982.29 L1032.5 982.35 L1034.5 982.42 L1036.5 982.48 L1038.5 982.54 L1040.5 982.61 L1042.5 982.67 L1044.5 982.74 L1046.5 982.81 L1048.5 982.87 L1050.5 982.94 L1052.5 983.00 L1054.5 983.07 L1056.5 983.14 L1058.5 983.20 L1060.5 983.27 L1062.5 983.33 L1064.5 983.39 L1066.5 983.46 L1068.5 983.52 L1070.5 983.58 L1072.5 983.65 L1074.5 983.71 L1076.5 983.77 L1078.5 983.82 L1080.5 983.88 L1082.5 983.94 L1084.5 983.99 L1086.5 984.05 L1088.5 984.10 L1090.5 984.15 L1092.5 984.20 L1094.5 984.25 L1096.5 984.29 L1098.5 984.34 L1100.5 984.38 L1102.5 984.42 L1104.5 984.46 L1106.5 984.50 L1108.5 984.54 L1110.5 984.58 L1112.5 984.62 L1114.5 984.65 L1116.5 984.69 L1118.5 984.73 L1120.5 984.77 L1122.5 984.80 L1124.5 984.84 L1126.5 984.88 L1128.5 984.91 L1130.5 984.95 L1132.5 984.98 L1134.5 985.02 L1136.5 985.05 L1138.5 985.09 L1140.5 985.12 L1142.5 985.16 L1144.5 985.19 L1146.5 985.23 L1148.5 985.26 L1150.5 985.30 L1152.5 985.33 L1154.5 985.37 L1156.5 985.40 L1158.5 985.44 L1160.5 985.47 L1162.5 985.51 L1164.5 985.54 L1166.5 985.58 L1168.5 985.61 L1170.5 985.65 L1172.5 985.69 L1174.5 985.72 L1176.5 985.76 L1178.5 985.80 L1180.5 985.83 L1182.5 985.87 L1184.5 985.91 L1186.5 985.95 L1188.5 985.99 L1190.5 986.03 L1192.5 986.07 L1194.5 986.11 L1196.5 986.15 L1198.5 986.19 L1200.5 986.24 L1202.5 986.28 L1204.5 986.32 L1206.5 986.36 L1208.5 986.41 L1210.5 986.45 L1212.5 986.49 L1214.5 986.53 L1216.5 986.58 L1218.5 986.62 L1220.5 986.66 L1222.5 986.70 L1224.5 986.75 L1226.5 986.79 L1228.5 986.83 L1230.5 986.87 L1232.5 986.92 L1234.5 986.96 L1236.5 987.00 L1238.5 987.05 L1240.5 987.09 L1242.5 987.13 L1244.5 987.17 L1246.5 987.22 L1248.5 987.26 L1250.5 987.30 L1252.5 987.35 L1254.5 987.39 L1256.5 987.43 L1258.5 987.47 L1260.5 987.52 L1262.5 987.56 L1264.5 987.60 L1266.5 987.65 L1268.5 987.69 L1270.5 987.73 L1272.5 987.78 L1274.5 987.82 L1276.5 987.86 L1278.5 987.91 L1280.5 987.95 L1282.5 987.99 L1284.5 988.04 L1286.5 988.08 L1288.5 988.12 L1290.5 988.17 L1292.5 988.21 L1294.5 988.25 L1296.5 988.30 L1298.5 988.34 L1300.5 988.38 L1302.5 988.43 L1304.5 988.47 L1306.5 988.51 L1308.5 988.56 L1310.5 988.60 L1312.5 988.64 L1314.5 988.69 L1316.5 988.73 L1318.5 988.78 L1320.5 988.82 L1322.5 988.86 L1324.5 988.91 L1326.5 988.95 L1328.5 989.00 L1330.5 989.04 L1332.5 989.08 L1334.5 989.13 L1336.5 989.17 L1338.5 989.22 L1340.5 989.26 L1342.5 989.31 L1344.5 989.35 L1346.5 989.40 L1348.5 989.44 L1350.5 989.49 L1352.5 989.53 L1354.5 989.58 L1356.5 989.62 L1358.5 989.67 L1360.5 989.71 L1362.5 989.76 L1364.5 989.80 L1366.5 989.85 L1368.5 989.89 L1370.5 989.94 L1372.5 989.98 L1374.5 990.03 L1376.5 990.08 L1378.5 990.12 L1380.5 990.17 L1382.5 990.21 L1384.5 990.26 L1386.5 990.31 L1388.5 990.35 L1390.5 990.40 L1392.5 990.44 L1394.5 990.49 L1396.5 990.54 L1398.5 990.58 L1400.5 990.63 L1402.5 990.68 L1404.5 990.73 L1406.5 990.79 L1408.5 990.84 L1410.5 990.90 L1412.5 990.96 L1414.5 991.02 L1416.5 991.08 L1418.5 991.14 L1420.5 991.21 L1422.5 991.27 L1424.5 991.34 L1426.5 991.41 L1428.5 991.48 L1430.5 991.55 L1432.5 991.61 L1434.5 991.68 L1436.5 991.76 L1438.5 991.83 L1440.5 991.90 L1442.5 991.97 L1444.5 992.04 L1446.5 992.11 L1448.5 992.18 L1450.5 992.25 L1452.5 992.32 L1454.5 992.40 L1456.5 992.47 L1458.5 992.55 L1460.5 992.62 L1462.5 992.70 L1464.5 992.78 L1466.5 992.86 L1468.5 992.95 L1470.5 993.03 L1472.5 993.11 L1474.5 993.20 L1476.5 993.28 L1478.5 993.37 L1480.5 993.46 L1482.5 993.55 L1484.5 993.64 L1486.5 993.73 L1488.5 993.82 L1490.5 993.91 L1492.5 994.01 L1494.5 994.10 L1496.5 994.19 L1498.5 994.29 L1500.5 994.38 L1502.5 994.48 L1504.5 994.58 L1506.5 994.68 L1508.5 994.79 L1510.5 994.90 L1512.5 995.02 L1514.5 995.15 L1516.5 995.28 L1518.5 995.41 L1520.4 995.55 L1522.4 995.69 L1524.4 995.84 L1526.4 995.98 L1528.4 996.13 L1530.4 996.28 L1532.4 996.43 L1534.4 996.58 L1536.4 996.73 L1538.4 996.87 L1540.4 997.02 L1542.4 997.16 L1544.4 997.30 L1546.4 997.44 L1548.4 997.57 L1550.4 997.69 L1552.4 997.81 L1554.4 997.93 L1556.4 998.04 L1558.4 998.14 L1560.4 998.24 L1562.4 998.33 L1564.4 998.41 L1566.4 998.49 L1568.4 998.56 L1570.4 998.63 L1572.4 998.70 L1574.4 998.76 L1576.4 998.81 L1578.4 998.86 L1580.4 998.91 L1582.4 998.96 L1584.4 999.00 L1586.4 999.03 L1588.4 999.07 L1590.4 999.10 L1592.4 999.13 L1594.4 999.16 L1596.4 999.19 L1598.4 999.21 L1600.4 999.23 L1602.4 999.24 L1604.4 999.25 L1606.4 999.25 L1608.4 999.25 L1610.4 999.24 L1612.4 999.22 L1614.4 999.21 L1616.4 999.19 L1618.4 999.17 L1620.4 999.14 L1622.4 999.12 L1624.4 999.10 L1626.4 999.08 L1628.4 999.06 L1630.4 999.05 L1632.4 999.03 L1634.4 999.03 L1636.4 999.03 L1638.4 999.03 L1640.4 999.04 L1642.4 999.07 L1644.4 999.10 L1646.4 999.15 L1648.4 999.21 L1650.4 999.27 L1652.4 999.35 L1654.4 999.43 L1656.4 999.53 L1658.4 999.62 L1660.4 999.73 L1662.4 999.83 L1664.4 999.95 L1666.4 1000.08 L1668.4 1000.23 L1670.3 1000.41 L1672.3 1000.63 L1674.3 1000.90 L1676.3 1001.21 L1678.3 1001.56 L1680.2 1001.96 L1682.2 1002.41 L1684.1 1002.93 L1686.0 1003.51 L1687.9 1004.16 L1689.7 1004.88 L1691.6 1005.65 L1693.4 1006.49 L1695.2 1007.38 L1697.0 1008.32 L1698.7 1009.30 L1700.4 1010.33 L1702.0 1011.39 L1703.7 1012.50 L1705.3 1013.65 L1706.9 1014.83 L1708.5 1016.03 L1710.0 1017.27 L1711.5 1018.53 L1713.0 1019.84 L1714.5 1021.18 L1715.9 1022.57 L1717.3 1023.99 L1718.6 1025.45 L1719.9 1026.93 L1721.1 1028.45 L1722.3 1030.01 L1723.5 1031.60 L1724.5 1033.24 L1725.6 1034.90 L1726.6 1036.58 L1727.5 1038.28 L1728.5 1039.99 L1729.5 1041.70 L1730.4 1043.41 L1731.3 1045.14 L1732.2 1046.86 L1733.1 1048.60 L1734.0 1050.33 L1734.9 1052.07 L1735.8 1053.81 L1736.7 1055.55 L1737.6 1057.29 L1738.5 1059.03 L1739.3 1060.78 L1740.2 1062.52 L1741.1 1064.27 L1741.9 1066.03 L1742.8 1067.79 L1743.6 1069.55 L1744.5 1071.31 L1745.3 1073.07 L1746.2 1074.82 L1747.1 1076.56 L1748.0 1078.27 L1749.0 1079.96 L1750.0 1081.63 L1751.1 1083.27 L1752.2 1084.89 L1753.3 1086.48 L1754.6 1088.02 L1755.9 1089.47 L1757.3 1090.82 L1758.8 1092.04 L1760.5 1093.12 L1762.3 1094.01 L1764.2 1094.71 L1766.1 1095.20 L1768.1 1095.51 L1770.0 1095.59 L1772.0 1095.39 L1773.9 1094.85 L1775.6 1094.01 L1777.3 1092.95 L1778.8 1091.75 L1780.3 1090.48 L1781.8 1089.19 L1783.3 1087.92 L1784.9 1086.72 L1786.5 1085.67 L1788.3 1084.80 L1790.1 1084.15 L1792.1 1083.75 L1794.0 1083.62 L1796.0 1083.80 L1797.8 1084.32 L1799.6 1085.19 L1801.1 1086.37 L1802.4 1087.79 L1803.6 1089.36 L1804.6 1091.03 L1805.4 1092.77 L1806.3 1094.53 L1807.0 1096.32 L1807.8 1098.11 L1808.5 1099.92 L1809.2 1101.73 L1809.9 1103.56 L1810.6 1105.39 L1811.3 1107.22 L1811.9 1109.05 L1812.6 1110.89 L1813.2 1112.74 L1813.8 1114.60 L1814.3 1116.46 L1814.9 1118.33 L1815.4 1120.20 L1816.0 1122.07 L1816.5 1123.94 L1817.0 1125.81 L1817.6 1127.69 L1818.1 1129.56 L1818.6 1131.43 L1819.1 1133.31 L1819.7 1135.18 L1820.2 1137.06 L1820.7 1138.93 L1821.2 1140.81 L1821.8 1142.68 L1822.3 1144.55 L1822.8 1146.43 L1823.3 1148.30 L1823.9 1150.17 L1824.4 1152.05 L1824.9 1153.92 L1825.4 1155.80 L1825.9 1157.68 L1826.4 1159.56 L1827.0 1161.44 L1827.5 1163.32 L1828.0 1165.20 L1828.5 1167.08 L1829.0 1168.96 L1829.5 1170.84 L1830.0 1172.72 L1830.5 1174.60 L1831.0 1176.48 L1831.5 1178.36 L1832.0 1180.24 L1832.5 1182.12 L1833.0 1184.00 L1833.5 1185.88 L1834.0 1187.76 L1834.5 1189.64 L1835.0 1191.52 L1835.5 1193.40 L1836.0 1195.28 L1836.5 1197.16 L1837.0 1199.04 L1837.5 1200.91 L1838.0 1202.79 L1838.6 1204.67 L1839.1 1206.54 L1839.6 1208.41 L1840.2 1210.28 L1840.7 1212.15 L1841.2 1214.02 L1841.8 1215.89 L1842.3 1217.76 L1842.9 1219.62 L1843.5 1221.49 L1844.0 1223.35 L1844.6 1225.22 L1845.2 1227.08 L1845.7 1228.94 L1846.3 1230.80 L1846.9 1232.65 L1847.5 1234.51 L1848.1 1236.37 L1848.7 1238.22 L1849.3 1240.07 L1849.9 1241.91 L1850.6 1243.75 L1851.2 1245.59 L1851.8 1247.42 L1852.5 1249.24 L1853.2 1251.04 L1854.0 1252.81 L1854.9 1254.51 L1856.1 1256.03 L1857.4 1257.17 L1859.0 1257.69 L1860.5 1257.45 L1862.0 1256.49 L1863.1 1255.04 L1864.0 1253.34 L1864.7 1251.53 L1865.2 1249.68 L1865.6 1247.80 L1866.0 1245.91 L1866.5 1244.02 L1866.9 1242.11 L1867.3 1240.21 L1867.6 1238.30 L1867.9 1236.38 L1868.2 1234.46 L1868.5 1232.54 L1868.7 1230.61 L1869.0 1228.68 L1869.2 1226.76 L1869.5 1224.83 L1869.8 1222.90 L1870.0 1220.98 L1870.3 1219.05 L1870.5 1217.12 L1870.8 1215.20 L1871.0 1213.27 L1871.3 1211.34 L1871.5 1209.42 L1871.8 1207.49 L1872.1 1205.56 L1872.3 1203.64 L1872.5 1201.71 L1872.8 1199.78 L1873.0 1197.85 L1873.2 1195.92 L1873.4 1193.98 L1873.6 1192.05 L1873.8 1190.12 L1874.0 1188.18 L1874.2 1186.25 L1874.4 1184.32 L1874.5 1182.38 L1874.7 1180.45 L1874.9 1178.52 L1875.1 1176.59 L1875.3 1174.65 L1875.5 1172.72 L1875.7 1170.79 L1875.9 1168.85 L1876.1 1166.92 L1876.3 1164.99 L1876.5 1163.06 L1876.7 1161.12 L1876.9 1159.19 L1877.1 1157.26 L1877.3 1155.32 L1877.5 1153.39 L1877.7 1151.46 L1877.9 1149.53 L1878.1 1147.59 L1878.3 1145.66 L1878.5 1143.73 L1878.7 1141.80 L1878.9 1139.86 L1879.1 1137.93 L1879.3 1136.00 L1879.5 1134.07 L1879.8 1132.14 L1879.9 1130.20 L1880.1 1128.27 L1880.3 1126.34 L1880.5 1124.40 L1880.7 1122.47 L1880.8 1120.53 L1880.9 1118.59 L1881.0 1116.65 L1881.1 1114.71 L1881.1 1112.77 L1881.2 1110.82 L1881.2 1108.88 L1881.3 1106.94 L1881.4 1105.00 L1881.6 1103.07 L1881.7 1101.13 L1881.9 1099.19 L1882.0 1097.26 L1882.2 1095.32 L1882.3 1093.38 L1882.5 1091.44 L1882.6 1089.51 L1882.8 1087.57 L1882.9 1085.63 L1883.1 1083.70 L1883.2 1081.76 L1883.4 1079.83 L1883.6 1077.89 L1883.7 1075.95 L1883.9 1074.02 L1884.0 1072.08 L1884.2 1070.14 L1884.4 1068.21 L1884.5 1066.27 L1884.7 1064.34 L1884.9 1062.40 L1885.0 1060.47 L1885.2 1058.53 L1885.4 1056.60 L1885.6 1054.67 L1885.8 1052.73 L1886.0 1050.80 L1886.2 1048.87 L1886.4 1046.94 L1886.7 1045.01 L1886.9 1043.08 L1887.1 1041.15 L1887.4 1039.23 L1887.7 1037.31 L1888.0 1035.39 L1888.3 1033.47 L1888.6 1031.55 L1889.0 1029.63 L1889.3 1027.71 L1889.6 1025.80 L1890.0 1023.89 L1890.4 1021.98 L1890.8 1020.08 L1891.2 1018.18 L1891.6 1016.29 L1892.1 1014.39 L1892.6 1012.51 L1893.1 1010.63 L1893.6 1008.77 L1894.2 1006.93 L1894.9 1005.10 L1895.6 1003.29 L1896.4 1001.49 L1897.3 999.73 L1898.2 998.01 L1899.2 996.35 L1900.3 994.76 L1901.6 993.24 L1903.0 991.81 L1904.5 990.49 L1906.0 989.30 L1907.7 988.27 L1909.5 987.39 L1911.4 986.64 L1913.3 986.00 L1915.2 985.46 L1917.1 985.02 L1919.1 984.65 L1921.0 984.34 L1923.0 984.07 L1925.0 983.83 L1927.0 983.62 L1929.0 983.43 L1931.0 983.27 L1933.0 983.15 L1935.0 983.05 L1937.0 982.97 L1939.0 982.90 L1941.0 982.82 L1943.0 982.76 L1945.0 982.69 L1947.0 982.64 L1949.0 982.58 L1951.0 982.54 L1953.0 982.50 L1955.0 982.46 L1957.0 982.42 L1959.0 982.38 L1961.0 982.34 L1963.0 982.30 L1965.0 982.27 L1967.0 982.23 L1969.0 982.19 L1971.0 982.16 L1973.0 982.13 L1975.0 982.09 L1977.0 982.06 L1979.0 982.03 L1981.0 982.00 L1983.0 981.98 L1985.0 981.95 L1987.0 981.92 L1989.0 981.89 L1991.0 981.86 L1993.0 981.83 L1995.0 981.81 L1997.0 981.78 L1999.0 981.75 L2001.0 981.73 L2003.0 981.70 L2005.0 981.67 L2007.0 981.65 L2009.0 981.62 L2011.0 981.60 L2013.0 981.57 L2015.0 981.55 L2017.0 981.53 L2019.0 981.50 L2021.0 981.48 L2023.0 981.46 L2025.0 981.44 L2027.0 981.41 L2029.0 981.39 L2031.0 981.37 L2033.0 981.35 L2035.0 981.33 L2037.0 981.30 L2039.0 981.28 L2041.0 981.26 L2043.0 981.24 L2045.0 981.22 L2047.0 981.20 L2049.0 981.18 L2051.0 981.16 L2053.0 981.14 L2055.0 981.12 L2057.0 981.10 L2059.0 981.08 L2061.0 981.06 L2063.0 981.04 L2065.0 981.03 L2066.9 981.01 L2068.9 980.99 L2071.0 980.97" stroke="#ff0000"/>
<path d="M254.7 580.78 L254.7 552.62 L257.5 552.62 L257.7 554.55 L258.0 556.48 L258.2 558.41 L258.4 560.34 L258.6 562.27 L258.8 564.20 L259.0 566.14 L259.2 568.07 L259.4 570.00 L259.6 571.94 L259.8 573.87 L259.9 575.81 L260.1 577.74 L260.3 579.68 L260.4 581.61 L260.6 583.55 L260.8 585.48 L261.0 587.42 L261.2 589.35 L261.3 591.28 L261.6 593.22 L261.8 595.15 L262.0 597.08 L262.2 599.01 L262.4 600.94 L262.6 602.87 L262.8 604.80 L263.1 606.73 L263.3 608.66 L263.5 610.59 L263.7 612.52 L264.0 614.45 L264.2 616.38 L264.4 618.31 L264.7 620.24 L264.9 622.16 L265.2 624.09 L265.4 626.02 L265.7 627.94 L265.9 629.87 L266.2 631.79 L266.5 633.72 L266.7 635.64 L267.0 637.57 L267.3 639.49 L267.6 641.41 L268.0 643.32 L268.3 645.23 L268.7 647.14 L269.0 649.05 L269.4 650.96 L269.8 652.86 L270.2 654.76 L270.6 656.67 L271.1 658.57 L271.5 660.46 L272.0 662.35 L272.5 664.23 L273.0 666.10 L273.6 667.96 L274.1 669.83 L274.7 671.69 L275.3 673.54 L275.9 675.39 L276.5 677.24 L277.2 679.08 L277.9 680.90 L278.6 682.70 L279.4 684.49 L280.2 686.25 L281.2 687.98 L282.2 689.65 L283.3 691.26 L284.5 692.79 L285.8 694.27 L287.2 695.69 L288.6 697.05 L290.1 698.33 L291.7 699.50 L293.4 700.53 L295.2 701.42 L297.1 702.16 L299.0 702.75 L300.9 703.20 L302.9 703.53 L304.9 703.76 L306.8 703.94 L308.8 704.08 L310.8 704.20 L312.8 704.31 L314.8 704.40 L316.8 704.47 L318.8 704.52 L320.8 704.56 L322.8 704.59 L324.8 704.61 L326.8 704.62 L328.8 704.63 L330.8 704.64 L332.8 704.65 L334.8 704.66 L336.8 704.67 L338.8 704.69 L340.8 704.70 L342.8 704.71 L344.8 704.73 L346.8 704.75 L348.8 704.77 L350.8 704.80 L352.8 704.83 L354.8 704.87 L356.8 704.90 L358.8 704.94 L360.8 704.98 L362.8 705.02 L364.8 705.06 L366.8 705.10 L368.8 705.14 L370.8 705.18 L372.8 705.22 L374.8 705.26 L376.8 705.30 L378.8 705.35 L380.8 705.39 L382.8 705.44 L384.8 705.49 L386.8 705.54 L388.8 705.60 L390.8 705.65 L392.8 705.71 L394.8 705.77 L396.8 705.84 L398.8 705.90 L400.8 705.97 L402.8 706.04 L404.8 706.11 L406.8 706.18 L408.8 706.25 L410.8 706.32 L412.8 706.39 L414.8 706.46 L416.8 706.53 L418.8 706.61 L420.8 706.68 L422.8 706.75 L424.8 706.83 L426.8 706.90 L428.8 706.98 L430.8 707.05 L432.8 707.13 L434.8 707.20 L436.8 707.28 L438.8 707.36 L440.8 707.43 L442.8 707.51 L444.8 707.59 L446.8 707.67 L448.8 707.75 L450.8 707.83 L452.8 707.91 L454.8 707.99 L456.8 708.07 L458.8 708.15 L460.8 708.23 L462.8 708.32 L464.8 708.40 L466.8 708.48 L468.8 708.57 L470.8 708.65 L472.8 708.74 L474.8 708.82 L476.8 708.91 L478.8 709.00 L480.8 709.08 L482.8 709.17 L484.8 709.26 L486.8 709.35 L488.8 709.44 L490.8 709.53 L492.8 709.62 L494.8 709.71 L496.8 709.80 L498.8 709.89 L500.8 709.99 L502.8 710.08 L504.8 710.17 L506.8 710.27 L508.8 710.36 L510.8 710.45 L512.8 710.55 L514.8 710.64 L516.8 710.74 L518.8 710.83 L520.7 710.93 L522.7 711.02 L524.7 711.12 L526.7 711.21 L528.7 711.31 L530.7 711.41 L532.7 711.50 L534.7 711.60 L536.7 711.70 L538.7 711.79 L540.7 711.89 L542.7 711.99 L544.7 712.08 L546.7 712.18 L548.7 712.28 L550.7 712.37 L552.7 712.47 L554.7 712.57 L556.7 712.66 L558.7 712.76 L560.7 712.86 L562.7 712.95 L564.7 713.05 L566.7 713.15 L568.7 713.24 L570.7 713.34 L572.7 713.43 L574.7 713.53 L576.7 713.63 L578.7 713.72 L580.7 713.82 L582.7 713.91 L584.7 714.01 L586.7 714.10 L588.7 714.20 L590.7 714.29 L592.7 714.39 L594.7 714.48 L596.7 714.57 L598.7 714.67 L600.7 714.76 L602.7 714.86 L604.7 714.95 L606.7 715.04 L608.7 715.14 L610.7 715.23 L612.7 715.33 L614.7 715.42 L616.7 715.52 L618.7 715.61 L620.7 715.71 L622.6 715.80 L624.6 715.90 L626.6 715.99 L628.6 716.09 L630.6 716.18 L632.6 716.28 L634.6 716.37 L636.6 716.46 L638.6 716.56 L640.6 716.65 L642.6 716.74 L644.6 716.84 L646.6 716.93 L648.6 717.02 L650.6 717.11 L652.6 717.20 L654.6 717.29 L656.6 717.38 L658.6 717.47 L660.6 717.56 L662.6 717.65 L664.6 717.74 L666.6 717.82 L668.6 717.91 L670.6 717.99 L672.6 718.08 L674.6 718.16 L676.6 718.24 L678.6 718.32 L680.6 718.40 L682.6 718.48 L684.6 718.56 L686.6 718.64 L688.6 718.71 L690.6 718.79 L692.6 718.86 L694.6 718.93 L696.6 719.01 L698.6 719.08 L700.6 719.14 L702.6 719.21 L704.6 719.28 L706.6 719.34 L708.6 719.41 L710.6 719.47 L712.6 719.53 L714.6 719.59 L716.6 719.65 L718.6 719.71 L720.6 719.77 L722.6 719.82 L724.6 719.88 L726.6 719.93 L728.6 719.99 L730.6 720.04 L732.6 720.09 L734.6 720.14 L736.6 720.19 L738.6 720.24 L740.6 720.29 L742.6 720.34 L744.6 720.39 L746.6 720.43 L748.6 720.48 L750.6 720.52 L752.6 720.57 L754.6 720.61 L756.6 720.66 L758.6 720.70 L760.6 720.74 L762.6 720.79 L764.6 720.83 L766.6 720.87 L768.6 720.91 L770.6 720.96 L772.6 721.00 L774.6 721.04 L776.6 721.08 L778.6 721.12 L780.6 721.16 L782.6 721.20 L784.6 721.24 L786.6 721.29 L788.6 721.33 L790.6 721.37 L792.6 721.41 L794.6 721.45 L796.6 721.49 L798.6 721.53 L800.6 721.58 L802.6 721.62 L804.6 721.66 L806.6 721.70 L808.6 721.74 L810.6 721.78 L812.6 721.82 L814.6 721.87 L816.6 721.91 L818.6 721.95 L820.6 721.99 L822.6 722.03 L824.6 722.07 L826.6 722.11 L828.6 722.15 L830.6 722.19 L832.6 722.23 L834.6 722.27 L836.6 722.31 L838.6 722.35 L840.6 722.39 L842.6 722.43 L844.6 722.47 L846.6 722.51 L848.6 722.55 L850.6 722.59 L852.6 722.63 L854.6 722.67 L856.6 722.71 L858.6 722.75 L860.6 722.79 L862.6 722.83 L864.6 722.87 L866.6 722.91 L868.6 722.95 L870.6 722.99 L872.6 723.03 L874.6 723.08 L876.6 723.12 L878.6 723.16 L880.6 723.20 L882.6 723.24 L884.6 723.28 L886.6 723.33 L888.6 723.37 L890.6 723.41 L892.6 723.45 L894.6 723.50 L896.6 723.54 L898.6 723.58 L900.6 723.63 L902.6 723.67 L904.6 723.71 L906.6 723.76 L908.6 723.80 L910.6 723.85 L912.6 723.89 L914.6 723.93 L916.6 723.98 L918.6 724.02 L920.6 724.06 L922.6 724.11 L924.6 724.15 L926.6 724.20 L928.6 724.24 L930.6 724.28 L932.6 724.33 L934.6 724.37 L936.6 724.42 L938.6 724.46 L940.6 724.51 L942.6 724.55 L944.6 724.60 L946.6 724.64 L948.6 724.69 L950.6 724.74 L952.6 724.78 L954.6 724.83 L956.6 724.87 L958.6 724.92 L960.6 724.97 L962.6 725.02 L964.6 725.06 L966.6 725.11 L968.6 725.16 L970.6 725.21 L972.6 725.26 L974.6 725.31 L976.6 725.36 L978.6 725.41 L980.6 725.46 L982.6 725.51 L984.6 725.56 L986.6 725.61 L988.6 725.66 L990.6 725.71 L992.6 725.76 L994.6 725.82 L996.6 725.87 L998.6 725.92 L1000.6 725.98 L1002.6 726.03 L1004.6 726.09 L1006.6 726.14 L1008.6 726.20 L1010.6 726.25 L1012.6 726.31 L1014.6 726.36 L1016.6 726.41 L1018.6 726.47 L1020.6 726.52 L1022.6 726.58 L1024.6 726.63 L1026.6 726.69 L1028.6 726.74 L1030.6 726.80 L1032.6 726.86 L1034.6 726.91 L1036.6 726.97 L1038.6 727.02 L1040.6 727.08 L1042.6 727.13 L1044.6 727.19 L1046.6 727.24 L1048.6 727.30 L1050.6 727.36 L1052.6 727.41 L1054.6 727.47 L1056.6 727.52 L1058.6 727.58 L1060.6 727.63 L1062.6 727.69 L1064.6 727.75 L1066.6 727.80 L1068.6 727.86 L1070.6 727.91 L1072.6 727.97 L1074.6 728.03 L1076.6 728.08 L1078.6 728.14 L1080.6 728.19 L1082.6 728.25 L1084.6 728.31 L1086.6 728.36 L1088.6 728.42 L1090.6 728.47 L1092.6 728.53 L1094.6 728.59 L1096.6 728.64 L1098.6 728.70 L1100.6 728.75 L1102.6 728.81 L1104.6 728.87 L1106.6 728.92 L1108.6 728.98 L1110.6 729.03 L1112.6 729.09 L1114.6 729.14 L1116.6 729.20 L1118.6 729.26 L1120.6 729.31 L1122.6 729.37 L1124.6 729.42 L1126.6 729.48 L1128.6 729.54 L1130.6 729.59 L1132.6 729.65 L1134.6 729.71 L1136.6 729.76 L1138.6 729.82 L1140.6 729.87 L1142.6 729.93 L1144.6 729.99 L1146.6 730.04 L1148.6 730.10 L1150.6 730.16 L1152.6 730.21 L1154.6 730.27 L1156.6 730.32 L1158.5 730.38 L1160.5 730.44 L1162.5 730.49 L1164.5 730.55 L1166.5 730.61 L1168.5 730.67 L1170.5 730.72 L1172.5 730.78 L1174.5 730.84 L1176.5 730.89 L1178.5 730.95 L1180.5 731.01 L1182.5 731.06 L1184.5 731.12 L1186.5 731.18 L1188.5 731.24 L1190.5 731.29 L1192.5 731.35 L1194.5 731.41 L1196.5 731.47 L1198.5 731.53 L1200.5 731.58 L1202.5 731.64 L1204.5 731.70 L1206.5 731.76 L1208.5 731.82 L1210.5 731.89 L1212.5 731.95 L1214.5 732.01 L1216.5 732.08 L1218.5 732.14 L1220.5 732.20 L1222.5 732.27 L1224.5 732.34 L1226.5 732.40 L1228.5 732.47 L1230.5 732.54 L1232.5 732.61 L1234.5 732.68 L1236.5 732.75 L1238.5 732.82 L1240.5 732.89 L1242.5 732.96 L1244.5 733.03 L1246.5 733.10 L1248.5 733.17 L1250.5 733.24 L1252.5 733.32 L1254.5 733.39 L1256.5 733.46 L1258.5 733.53 L1260.5 733.61 L1262.5 733.68 L1264.5 733.76 L1266.5 733.83 L1268.5 733.91 L1270.5 733.98 L1272.5 734.05 L1274.5 734.13 L1276.5 734.20 L1278.5 734.28 L1280.5 734.35 L1282.5 734.43 L1284.5 734.50 L1286.5 734.58 L1288.5 734.65 L1290.5 734.73 L1292.5 734.81 L1294.5 734.88 L1296.5 734.95 L1298.5 735.03 L1300.5 735.11 L1302.5 735.18 L1304.5 735.26 L1306.5 735.33 L1308.5 735.41 L1310.5 735.49 L1312.5 735.56 L1314.5 735.64 L1316.5 735.72 L1318.5 735.80 L1320.5 735.88 L1322.5 735.96 L1324.5 736.04 L1326.5 736.12 L1328.5 736.20 L1330.5 736.28 L1332.5 736.36 L1334.5 736.44 L1336.5 736.52 L1338.5 736.60 L1340.5 736.68 L1342.5 736.76 L1344.5 736.84 L1346.5 736.92 L1348.5 737.01 L1350.5 737.09 L1352.5 737.17 L1354.5 737.25 L1356.5 737.33 L1358.5 737.41 L1360.5 737.50 L1362.5 737.58 L1364.5 737.66 L1366.5 737.74 L1368.5 737.82 L1370.5 737.90 L1372.5 737.99 L1374.5 738.07 L1376.5 738.15 L1378.5 738.23 L1380.4 738.31 L1382.4 738.39 L1384.4 738.47 L1386.4 738.55 L1388.4 738.63 L1390.4 738.71 L1392.4 738.79 L1394.4 738.87 L1396.4 738.95 L1398.4 739.02 L1400.4 739.10 L1402.4 739.17 L1404.4 739.24 L1406.4 739.30 L1408.4 739.36 L1410.4 739.42 L1412.4 739.47 L1414.4 739.53 L1416.4 739.58 L1418.4 739.63 L1420.4 739.68 L1422.4 739.73 L1424.4 739.78 L1426.4 739.83 L1428.4 739.89 L1430.4 739.94 L1432.4 740.00 L1434.4 740.06 L1436.4 740.12 L1438.4 740.19 L1440.4 740.26 L1442.4 740.34 L1444.4 740.42 L1446.4 740.51 L1448.4 740.61 L1450.4 740.71 L1452.4 740.82 L1454.4 740.93 L1456.4 741.05 L1458.4 741.18 L1460.4 741.31 L1462.4 741.44 L1464.4 741.58 L1466.4 741.73 L1468.4 741.87 L1470.4 742.02 L1472.4 742.18 L1474.4 742.33 L1476.4 742.49 L1478.4 742.65 L1480.3 742.81 L1482.3 742.97 L1484.3 743.13 L1486.3 743.29 L1488.3 743.45 L1490.3 743.61 L1492.3 743.76 L1494.3 743.92 L1496.3 744.07 L1498.3 744.22 L1500.3 744.37 L1502.3 744.52 L1504.3 744.66 L1506.3 744.80 L1508.3 744.94 L1510.3 745.08 L1512.3 745.22 L1514.3 745.37 L1516.3 745.51 L1518.2 745.66 L1520.2 745.80 L1522.2 745.95 L1524.2 746.09 L1526.2 746.23 L1528.2 746.37 L1530.2 746.51 L1532.2 746.65 L1534.2 746.78 L1536.2 746.92 L1538.2 747.05 L1540.2 747.18 L1542.2 747.30 L1544.2 747.42 L1546.2 747.54 L1548.2 747.65 L1550.2 747.76 L1552.2 747.86 L1554.2 747.96 L1556.2 748.05 L1558.2 748.13 L1560.2 748.21 L1562.2 748.28 L1564.2 748.35 L1566.2 748.41 L1568.2 748.46 L1570.2 748.50 L1572.2 748.54 L1574.2 748.57 L1576.2 748.60 L1578.2 748.63 L1580.2 748.65 L1582.2 748.68 L1584.2 748.69 L1586.2 748.71 L1588.2 748.73 L1590.2 748.75 L1592.2 748.76 L1594.2 748.78 L1596.2 748.80 L1598.2 748.82 L1600.2 748.84 L1602.2 748.86 L1604.2 748.88 L1606.2 748.90 L1608.2 748.91 L1610.2 748.93 L1612.2 748.94 L1614.2 748.95 L1616.2 748.96 L1618.2 748.97 L1620.2 748.97 L1622.2 748.98 L1624.2 748.99 L1626.2 749.00 L1628.2 749.02 L1630.2 749.03 L1632.2 749.04 L1634.2 749.06 L1636.2 749.08 L1638.2 749.11 L1640.2 749.15 L1642.2 749.19 L1644.2 749.26 L1646.2 749.34 L1648.2 749.45 L1650.2 749.57 L1652.2 749.70 L1654.2 749.85 L1656.2 750.00 L1658.2 750.17 L1660.1 750.34 L1662.1 750.52 L1664.1 750.70 L1666.1 750.89 L1668.1 751.09 L1670.1 751.31 L1672.1 751.56 L1674.1 751.83 L1676.0 752.14 L1678.0 752.48 L1680.0 752.86 L1681.9 753.28 L1683.9 753.75 L1685.8 754.26 L1687.7 754.82 L1689.6 755.40 L1691.5 756.02 L1693.4 756.67 L1695.3 757.34 L1697.2 758.04 L1699.0 758.78 L1700.8 759.54 L1702.7 760.35 L1704.5 761.18 L1706.3 762.06 L1708.0 762.98 L1709.8 763.95 L1711.5 764.97 L1713.1 766.03 L1714.8 767.15 L1716.4 768.32 L1717.9 769.54 L1719.5 770.81 L1721.0 772.11 L1722.4 773.45 L1723.8 774.83 L1725.2 776.26 L1726.5 777.73 L1727.7 779.23 L1729.0 780.76 L1730.2 782.30 L1731.4 783.87 L1732.5 785.46 L1733.7 787.06 L1734.7 788.69 L1735.8 790.32 L1736.9 791.97 L1737.9 793.62 L1739.0 795.28 L1740.0 796.94 L1741.0 798.61 L1742.1 800.28 L1743.1 801.96 L1744.0 803.65 L1745.0 805.35 L1746.0 807.04 L1747.0 808.73 L1748.0 810.41 L1749.0 812.08 L1750.1 813.73 L1751.2 815.36 L1752.3 816.97 L1753.4 818.57 L1754.6 820.15 L1755.7 821.72 L1756.9 823.27 L1758.2 824.78 L1759.5 826.26 L1760.8 827.69 L1762.3 829.07 L1763.7 830.37 L1765.3 831.56 L1767.0 832.63 L1768.8 833.55 L1770.6 834.33 L1772.5 835.00 L1774.4 835.55 L1776.3 836.02 L1778.3 836.40 L1780.2 836.71 L1782.2 836.95 L1784.2 837.16 L1786.2 837.38 L1788.2 837.68 L1790.1 838.09 L1792.0 838.67 L1793.8 839.43 L1795.6 840.37 L1797.2 841.47 L1798.8 842.71 L1800.2 844.09 L1801.5 845.56 L1802.7 847.10 L1803.8 848.68 L1804.9 850.31 L1806.0 851.96 L1807.0 853.65 L1807.9 855.35 L1808.8 857.07 L1809.8 858.80 L1810.6 860.55 L1811.5 862.30 L1812.3 864.07 L1813.1 865.84 L1813.9 867.63 L1814.7 869.41 L1815.5 871.21 L1816.2 873.02 L1816.9 874.84 L1817.6 876.66 L1818.3 878.48 L1818.9 880.32 L1819.6 882.16 L1820.2 884.01 L1820.8 885.86 L1821.4 887.72 L1821.9 889.59 L1822.5 891.45 L1823.1 893.30 L1823.7 895.16 L1824.3 897.01 L1824.9 898.86 L1825.5 900.71 L1826.1 902.55 L1826.7 904.40 L1827.4 906.25 L1828.0 908.10 L1828.6 909.95 L1829.2 911.80 L1829.8 913.65 L1830.4 915.51 L1831.0 917.37 L1831.5 919.22 L1832.1 921.08 L1832.7 922.94 L1833.3 924.80 L1833.8 926.66 L1834.4 928.52 L1835.0 930.38 L1835.6 932.24 L1836.2 934.09 L1836.8 935.95 L1837.4 937.80 L1838.0 939.66 L1838.6 941.51 L1839.2 943.36 L1839.8 945.21 L1840.4 947.06 L1841.0 948.91 L1841.6 950.76 L1842.2 952.61 L1842.8 954.46 L1843.4 956.31 L1844.1 958.15 L1844.7 960.00 L1845.3 961.84 L1846.0 963.68 L1846.6 965.52 L1847.2 967.36 L1847.9 969.20 L1848.5 971.04 L1849.2 972.87 L1849.9 974.69 L1850.6 976.51 L1851.3 978.33 L1852.0 980.14 L1852.7 981.93 L1853.5 983.70 L1854.4 985.42 L1855.5 987.06 L1856.7 988.49 L1858.2 989.52 L1859.8 989.94 L1861.4 989.63 L1862.8 988.64 L1864.0 987.17 L1864.8 985.46 L1865.4 983.65 L1866.0 981.79 L1866.4 979.91 L1866.9 978.02 L1867.3 976.12 L1867.7 974.22 L1868.0 972.31 L1868.4 970.40 L1868.7 968.48 L1869.0 966.57 L1869.4 964.65 L1869.7 962.73 L1870.0 960.81 L1870.3 958.89 L1870.5 956.96 L1870.8 955.04 L1871.1 953.11 L1871.3 951.19 L1871.6 949.26 L1871.9 947.34 L1872.1 945.41 L1872.4 943.48 L1872.6 941.56 L1872.8 939.63 L1873.1 937.70 L1873.3 935.77 L1873.5 933.84 L1873.7 931.91 L1873.9 929.98 L1874.2 928.05 L1874.4 926.12 L1874.6 924.19 L1874.8 922.25 L1875.0 920.32 L1875.3 918.39 L1875.5 916.46 L1875.7 914.53 L1875.9 912.60 L1876.1 910.67 L1876.4 908.74 L1876.6 906.81 L1876.8 904.88 L1877.0 902.95 L1877.2 901.02 L1877.5 899.09 L1877.7 897.16 L1877.9 895.23 L1878.1 893.30 L1878.3 891.37 L1878.6 889.44 L1878.8 887.51 L1879.0 885.58 L1879.2 883.65 L1879.5 881.72 L1879.7 879.79 L1879.9 877.86 L1880.2 875.93 L1880.4 874.00 L1880.6 872.08 L1880.9 870.15 L1881.1 868.22 L1881.3 866.29 L1881.6 864.36 L1881.8 862.43 L1882.0 860.50 L1882.3 858.57 L1882.5 856.64 L1882.7 854.71 L1883.0 852.78 L1883.2 850.85 L1883.4 848.92 L1883.6 846.99 L1883.8 845.06 L1884.1 843.13 L1884.3 841.20 L1884.5 839.27 L1884.7 837.34 L1884.9 835.41 L1885.1 833.48 L1885.3 831.55 L1885.6 829.61 L1885.8 827.68 L1886.0 825.75 L1886.2 823.82 L1886.4 821.89 L1886.6 819.96 L1886.8 818.03 L1887.0 816.09 L1887.2 814.16 L1887.5 812.23 L1887.7 810.30 L1887.9 808.37 L1888.1 806.44 L1888.4 804.51 L1888.6 802.58 L1888.8 800.65 L1889.1 798.73 L1889.3 796.80 L1889.5 794.87 L1889.8 792.94 L1890.0 791.02 L1890.3 789.09 L1890.6 787.18 L1891.0 785.26 L1891.3 783.35 L1891.7 781.44 L1892.1 779.53 L1892.5 777.63 L1892.9 775.72 L1893.3 773.83 L1893.8 771.95 L1894.3 770.07 L1894.8 768.20 L1895.4 766.33 L1896.0 764.47 L1896.6 762.63 L1897.3 760.80 L1898.0 758.99 L1898.8 757.20 L1899.6 755.43 L1900.5 753.68 L1901.4 751.98 L1902.5 750.33 L1903.6 748.74 L1904.9 747.22 L1906.2 745.79 L1907.7 744.47 L1909.3 743.27 L1910.9 742.21 L1912.7 741.28 L1914.5 740.46 L1916.4 739.75 L1918.3 739.15 L1920.2 738.64 L1922.1 738.20 L1924.1 737.82 L1926.1 737.50 L1928.0 737.23 L1930.0 737.01 L1932.0 736.82 L1934.0 736.65 L1936.0 736.50 L1938.0 736.37 L1940.0 736.25 L1942.0 736.15 L1944.0 736.06 L1946.0 735.98 L1948.0 735.90 L1950.0 735.83 L1952.0 735.76 L1954.0 735.70 L1956.0 735.64 L1958.0 735.59 L1960.0 735.55 L1962.0 735.51 L1964.0 735.48 L1966.0 735.45 L1968.0 735.42 L1970.0 735.40 L1972.0 735.37 L1974.0 735.34 L1976.0 735.31 L1978.0 735.28 L1980.0 735.25 L1982.0 735.22 L1984.0 735.20 L1986.0 735.17 L1988.0 735.14 L1990.0 735.11 L1992.0 735.09 L1994.0 735.06 L1996.0 735.03 L1998.0 735.00 L2000.0 734.98 L2002.0 734.95 L2004.0 734.92 L2006.0 734.89 L2008.0 734.87 L2010.0 734.84 L2012.0 734.81 L2014.0 734.79 L2016.0 734.76 L2018.0 734.73 L2020.0 734.71 L2022.0 734.68 L2024.0 734.66 L2026.0 734.64 L2028.0 734.61 L2030.0 734.59 L2032.0 734.57 L2034.0 734.55 L2036.0 734.53 L2038.0 734.52 L2040.0 734.50 L2042.0 734.49 L2044.0 734.48 L2046.0 734.46 L2048.0 734.45 L2050.0 734.44 L2052.0 734.43 L2054.0 734.42 L2056.0 734.42 L2058.0 734.41 L2060.0 734.40 L2062.0 734.39 L2064.0 734.39 L2066.0 734.38 L2067.9 734.38 L2069.9 734.37 L2071.0 734.37" stroke="#0000ff"/>
<path d="M254.7 296.89 L254.7 271.65 L257.5 271.65 L257.7 273.59 L257.8 275.52 L258.0 277.46 L258.2 279.39 L258.4 281.32 L258.5 283.26 L258.7 285.19 L258.9 287.13 L259.0 289.06 L259.2 291.00 L259.4 292.93 L259.6 294.87 L259.7 296.80 L259.9 298.74 L260.1 300.67 L260.3 302.60 L260.5 304.54 L260.6 306.47 L260.8 308.41 L261.0 310.34 L261.2 312.27 L261.3 314.21 L261.5 316.14 L261.7 318.08 L261.9 320.01 L262.1 321.94 L262.3 323.88 L262.5 325.81 L262.6 327.74 L262.8 329.68 L263.0 331.61 L263.2 333.54 L263.4 335.48 L263.6 337.41 L263.8 339.34 L264.0 341.27 L264.2 343.21 L264.4 345.14 L264.6 347.07 L264.8 349.00 L265.0 350.93 L265.2 352.86 L265.4 354.79 L265.7 356.72 L265.9 358.65 L266.2 360.58 L266.4 362.50 L266.7 364.43 L266.9 366.35 L267.2 368.27 L267.5 370.20 L267.8 372.12 L268.1 374.04 L268.4 375.97 L268.6 377.89 L268.9 379.81 L269.2 381.73 L269.5 383.65 L269.8 385.57 L270.1 387.49 L270.4 389.41 L270.7 391.32 L271.1 393.24 L271.4 395.16 L271.7 397.07 L272.1 398.98 L272.4 400.89 L272.8 402.80 L273.3 404.69 L273.8 406.57 L274.3 408.44 L274.8 410.30 L275.4 412.16 L276.1 414.01 L276.7 415.86 L277.4 417.69 L278.1 419.52 L278.8 421.32 L279.6 423.10 L280.4 424.87 L281.3 426.62 L282.2 428.34 L283.2 430.05 L284.2 431.71 L285.3 433.34 L286.5 434.91 L287.7 436.44 L289.0 437.92 L290.4 439.31 L291.9 440.62 L293.4 441.82 L295.1 442.90 L296.9 443.87 L298.7 444.71 L300.5 445.42 L302.4 445.97 L304.4 446.40 L306.3 446.73 L308.3 447.00 L310.3 447.24 L312.3 447.47 L314.3 447.68 L316.3 447.89 L318.3 448.08 L320.2 448.27 L322.2 448.45 L324.2 448.63 L326.2 448.81 L328.2 448.98 L330.2 449.15 L332.2 449.31 L334.2 449.46 L336.2 449.60 L338.2 449.73 L340.2 449.86 L342.2 449.99 L344.2 450.11 L346.2 450.23 L348.2 450.36 L350.2 450.48 L352.2 450.60 L354.2 450.72 L356.2 450.84 L358.1 450.95 L360.1 451.07 L362.1 451.18 L364.1 451.30 L366.1 451.41 L368.1 451.52 L370.1 451.63 L372.1 451.74 L374.1 451.85 L376.1 451.96 L378.1 452.06 L380.1 452.17 L382.1 452.27 L384.1 452.37 L386.1 452.47 L388.1 452.57 L390.1 452.67 L392.1 452.76 L394.1 452.86 L396.1 452.95 L398.1 453.04 L400.1 453.13 L402.1 453.22 L404.1 453.31 L406.1 453.40 L408.1 453.49 L410.1 453.58 L412.1 453.67 L414.1 453.76 L416.1 453.85 L418.1 453.94 L420.1 454.03 L422.1 454.12 L424.1 454.21 L426.1 454.30 L428.1 454.39 L430.1 454.48 L432.1 454.57 L434.1 454.66 L436.1 454.75 L438.1 454.84 L440.1 454.93 L442.0 455.01 L444.0 455.10 L446.0 455.19 L448.0 455.28 L450.0 455.37 L452.0 455.46 L454.0 455.54 L456.0 455.63 L458.0 455.72 L460.0 455.81 L462.0 455.90 L464.0 455.98 L466.0 456.07 L468.0 456.16 L470.0 456.24 L472.0 456.33 L474.0 456.42 L476.0 456.50 L478.0 456.59 L480.0 456.67 L482.0 456.76 L484.0 456.84 L486.0 456.93 L488.0 457.01 L490.0 457.10 L492.0 457.18 L494.0 457.27 L496.0 457.35 L498.0 457.43 L500.0 457.52 L502.0 457.60 L504.0 457.68 L506.0 457.77 L508.0 457.85 L510.0 457.93 L512.0 458.01 L514.0 458.10 L516.0 458.18 L518.0 458.26 L520.0 458.34 L522.0 458.43 L524.0 458.51 L526.0 458.59 L528.0 458.67 L530.0 458.76 L532.0 458.84 L534.0 458.92 L536.0 459.00 L538.0 459.09 L540.0 459.17 L542.0 459.25 L544.0 459.33 L546.0 459.41 L548.0 459.50 L550.0 459.58 L552.0 459.66 L554.0 459.74 L555.9 459.82 L557.9 459.90 L559.9 459.99 L561.9 460.07 L563.9 460.15 L565.9 460.23 L567.9 460.31 L569.9 460.39 L571.9 460.48 L573.9 460.56 L575.9 460.64 L577.9 460.72 L579.9 460.80 L581.9 460.88 L583.9 460.96 L585.9 461.04 L587.9 461.13 L589.9 461.21 L591.9 461.29 L593.9 461.37 L595.9 461.45 L597.9 461.53 L599.9 461.61 L601.9 461.69 L603.9 461.77 L605.9 461.85 L607.9 461.93 L609.9 462.01 L611.9 462.09 L613.9 462.17 L615.9 462.25 L617.9 462.33 L619.9 462.41 L621.9 462.49 L623.9 462.57 L625.9 462.65 L627.9 462.73 L629.9 462.81 L631.9 462.89 L633.9 462.97 L635.9 463.05 L637.9 463.12 L639.9 463.20 L641.9 463.28 L643.9 463.36 L645.9 463.44 L647.9 463.51 L649.9 463.59 L651.9 463.67 L653.9 463.74 L655.9 463.82 L657.9 463.90 L659.9 463.97 L661.9 464.05 L663.9 464.12 L665.9 464.20 L667.9 464.27 L669.9 464.35 L671.9 464.42 L673.9 464.50 L675.9 464.57 L677.9 464.64 L679.9 464.72 L681.9 464.79 L683.9 464.86 L685.9 464.93 L687.9 465.01 L689.8 465.08 L691.8 465.15 L693.8 465.22 L695.8 465.29 L697.8 465.36 L699.8 465.43 L701.8 465.50 L703.8 465.57 L705.8 465.64 L707.8 465.70 L709.8 465.77 L711.8 465.83 L713.8 465.90 L715.8 465.96 L717.8 466.02 L719.8 466.08 L721.8 466.14 L723.8 466.20 L725.8 466.26 L727.8 466.32 L729.8 466.37 L731.8 466.43 L733.8 466.49 L735.8 466.54 L737.8 466.60 L739.8 466.65 L741.8 466.70 L743.8 466.75 L745.8 466.81 L747.8 466.86 L749.8 466.91 L751.8 466.96 L753.8 467.01 L755.8 467.06 L757.8 467.11 L759.8 467.16 L761.8 467.20 L763.8 467.25 L765.8 467.30 L767.8 467.35 L769.8 467.39 L771.8 467.44 L773.8 467.48 L775.8 467.53 L777.8 467.58 L779.8 467.62 L781.8 467.67 L783.8 467.71 L785.8 467.76 L787.8 467.80 L789.8 467.84 L791.8 467.89 L793.8 467.93 L795.8 467.98 L797.8 468.02 L799.8 468.06 L801.8 468.11 L803.8 468.15 L805.8 468.19 L807.8 468.23 L809.8 468.28 L811.8 468.32 L813.8 468.35 L815.8 468.39 L817.8 468.43 L819.8 468.47 L821.8 468.51 L823.8 468.55 L825.8 468.58 L827.8 468.62 L829.8 468.66 L831.8 468.69 L833.8 468.73 L835.8 468.76 L837.8 468.80 L839.8 468.84 L841.8 468.87 L843.8 468.91 L845.8 468.94 L847.8 468.98 L849.8 469.01 L851.8 469.05 L853.8 469.08 L855.8 469.12 L857.8 469.16 L859.8 469.19 L861.8 469.23 L863.8 469.27 L865.8 469.30 L867.8 469.34 L869.8 469.38 L871.8 469.42 L873.8 469.46 L875.8 469.50 L877.8 469.54 L879.8 469.58 L881.8 469.62 L883.8 469.66 L885.8 469.70 L887.8 469.74 L889.8 469.79 L891.8 469.83 L893.8 469.88 L895.8 469.92 L897.8 469.97 L899.8 470.02 L901.8 470.07 L903.8 470.12 L905.8 470.16 L907.8 470.21 L909.8 470.26 L911.8 470.31 L913.8 470.36 L915.8 470.41 L917.8 470.46 L919.8 470.51 L921.8 470.56 L923.8 470.61 L925.8 470.66 L927.8 470.71 L929.8 470.76 L931.8 470.81 L933.8 470.86 L935.8 470.91 L937.8 470.97 L939.8 471.02 L941.8 471.07 L943.8 471.12 L945.8 471.17 L947.8 471.22 L949.8 471.28 L951.8 471.33 L953.8 471.38 L955.8 471.44 L957.8 471.49 L959.8 471.54 L961.8 471.60 L963.8 471.65 L965.8 471.70 L967.8 471.76 L969.8 471.81 L971.8 471.87 L973.8 471.92 L975.8 471.98 L977.8 472.03 L979.8 472.09 L981.8 472.14 L983.8 472.20 L985.8 472.26 L987.8 472.31 L989.8 472.37 L991.8 472.43 L993.8 472.49 L995.8 472.54 L997.8 472.60 L999.8 472.66 L1001.8 472.72 L1003.8 472.77 L1005.8 472.83 L1007.8 472.89 L1009.8 472.95 L1011.8 473.01 L1013.8 473.07 L1015.8 473.12 L1017.8 473.18 L1019.8 473.24 L1021.8 473.30 L1023.8 473.36 L1025.8 473.42 L1027.8 473.48 L1029.8 473.53 L1031.8 473.59 L1033.8 473.65 L1035.8 473.71 L1037.8 473.77 L1039.8 473.83 L1041.8 473.89 L1043.8 473.95 L1045.8 474.01 L1047.8 474.06 L1049.8 474.12 L1051.8 474.18 L1053.8 474.24 L1055.7 474.30 L1057.7 474.36 L1059.7 474.42 L1061.7 474.48 L1063.7 474.54 L1065.7 474.60 L1067.7 474.66 L1069.7 474.72 L1071.7 474.78 L1073.7 474.84 L1075.7 474.90 L1077.7 474.96 L1079.7 475.02 L1081.7 475.08 L1083.7 475.14 L1085.7 475.20 L1087.7 475.26 L1089.7 475.32 L1091.7 475.38 L1093.7 475.44 L1095.7 475.50 L1097.7 475.56 L1099.7 475.62 L1101.7 475.68 L1103.7 475.74 L1105.7 475.81 L1107.7 475.87 L1109.7 475.93 L1111.7 475.99 L1113.7 476.05 L1115.7 476.11 L1117.7 476.17 L1119.7 476.23 L1121.7 476.29 L1123.7 476.36 L1125.7 476.42 L1127.7 476.48 L1129.7 476.54 L1131.7 476.60 L1133.7 476.66 L1135.7 476.72 L1137.7 476.79 L1139.7 476.85 L1141.7 476.91 L1143.7 476.97 L1145.7 477.03 L1147.7 477.10 L1149.7 477.16 L1151.7 477.22 L1153.7 477.28 L1155.7 477.35 L1157.7 477.41 L1159.7 477.47 L1161.7 477.53 L1163.7 477.60 L1165.7 477.66 L1167.7 477.72 L1169.7 477.79 L1171.7 477.85 L1173.7 477.91 L1175.7 477.98 L1177.7 478.04 L1179.7 478.10 L1181.7 478.17 L1183.7 478.23 L1185.7 478.29 L1187.7 478.36 L1189.7 478.42 L1191.7 478.49 L1193.7 478.55 L1195.7 478.61 L1197.7 478.68 L1199.7 478.74 L1201.7 478.81 L1203.7 478.87 L1205.7 478.94 L1207.7 479.01 L1209.7 479.07 L1211.7 479.14 L1213.7 479.20 L1215.7 479.27 L1217.7 479.34 L1219.7 479.41 L1221.7 479.47 L1223.7 479.54 L1225.7 479.61 L1227.7 479.68 L1229.7 479.75 L1231.7 479.82 L1233.7 479.89 L1235.7 479.96 L1237.7 480.03 L1239.7 480.10 L1241.7 480.17 L1243.7 480.24 L1245.7 480.31 L1247.7 480.38 L1249.7 480.45 L1251.7 480.52 L1253.7 480.59 L1255.7 480.66 L1257.7 480.73 L1259.7 480.81 L1261.7 480.88 L1263.7 480.95 L1265.7 481.02 L1267.6 481.09 L1269.6 481.17 L1271.6 481.24 L1273.6 481.31 L1275.6 481.38 L1277.6 481.45 L1279.6 481.53 L1281.6 481.60 L1283.6 481.67 L1285.6 481.75 L1287.6 481.82 L1289.6 481.89 L1291.6 481.96 L1293.6 482.04 L1295.6 482.11 L1297.6 482.18 L1299.6 482.26 L1301.6 482.33 L1303.6 482.40 L1305.6 482.48 L1307.6 482.55 L1309.6 482.62 L1311.6 482.70 L1313.6 482.77 L1315.6 482.85 L1317.6 482.92 L1319.6 483.00 L1321.6 483.07 L1323.6 483.15 L1325.6 483.22 L1327.6 483.30 L1329.6 483.37 L1331.6 483.45 L1333.6 483.53 L1335.6 483.60 L1337.6 483.68 L1339.6 483.76 L1341.6 483.83 L1343.6 483.91 L1345.6 483.99 L1347.6 484.07 L1349.6 484.14 L1351.6 484.22 L1353.6 484.30 L1355.6 484.38 L1357.6 484.46 L1359.6 484.54 L1361.6 484.62 L1363.6 484.70 L1365.6 484.78 L1367.6 484.86 L1369.6 484.94 L1371.6 485.02 L1373.6 485.10 L1375.6 485.18 L1377.6 485.26 L1379.6 485.34 L1381.6 485.42 L1383.6 485.50 L1385.6 485.58 L1387.6 485.66 L1389.6 485.75 L1391.6 485.83 L1393.6 485.91 L1395.6 485.99 L1397.6 486.08 L1399.6 486.16 L1401.6 486.25 L1403.6 486.33 L1405.5 486.42 L1407.5 486.51 L1409.5 486.60 L1411.5 486.68 L1413.5 486.78 L1415.5 486.87 L1417.5 486.96 L1419.5 487.05 L1421.5 487.14 L1423.5 487.24 L1425.5 487.33 L1427.5 487.43 L1429.5 487.52 L1431.5 487.62 L1433.5 487.71 L1435.5 487.81 L1437.5 487.91 L1439.5 488.00 L1441.5 488.10 L1443.5 488.19 L1445.5 488.29 L1447.5 488.38 L1449.5 488.48 L1451.5 488.57 L1453.5 488.67 L1455.5 488.76 L1457.5 488.85 L1459.5 488.94 L1461.5 489.04 L1463.5 489.13 L1465.5 489.22 L1467.5 489.30 L1469.5 489.39 L1471.5 489.48 L1473.5 489.56 L1475.5 489.64 L1477.5 489.72 L1479.5 489.79 L1481.5 489.87 L1483.5 489.94 L1485.5 490.02 L1487.5 490.09 L1489.5 490.17 L1491.5 490.24 L1493.5 490.32 L1495.5 490.40 L1497.5 490.48 L1499.5 490.57 L1501.5 490.66 L1503.5 490.75 L1505.5 490.86 L1507.4 490.97 L1509.4 491.08 L1511.4 491.20 L1513.4 491.33 L1515.4 491.45 L1517.4 491.58 L1519.4 491.71 L1521.4 491.84 L1523.4 491.96 L1525.4 492.08 L1527.4 492.20 L1529.4 492.31 L1531.4 492.41 L1533.4 492.51 L1535.4 492.60 L1537.4 492.68 L1539.4 492.76 L1541.4 492.83 L1543.4 492.89 L1545.4 492.95 L1547.4 493.01 L1549.4 493.06 L1551.4 493.11 L1553.4 493.16 L1555.4 493.20 L1557.4 493.24 L1559.4 493.28 L1561.4 493.32 L1563.4 493.35 L1565.4 493.39 L1567.4 493.42 L1569.4 493.46 L1571.4 493.49 L1573.4 493.53 L1575.4 493.57 L1577.4 493.60 L1579.4 493.64 L1581.4 493.68 L1583.4 493.72 L1585.4 493.77 L1587.4 493.82 L1589.4 493.87 L1591.4 493.93 L1593.4 493.98 L1595.4 494.05 L1597.4 494.11 L1599.4 494.18 L1601.4 494.25 L1603.4 494.33 L1605.4 494.41 L1607.4 494.50 L1609.4 494.58 L1611.4 494.68 L1613.4 494.77 L1615.4 494.87 L1617.4 494.98 L1619.4 495.08 L1621.4 495.20 L1623.4 495.33 L1625.3 495.48 L1627.3 495.67 L1629.3 495.89 L1631.3 496.15 L1633.3 496.45 L1635.2 496.78 L1637.2 497.14 L1639.2 497.53 L1641.1 497.94 L1643.1 498.38 L1645.0 498.82 L1647.0 499.29 L1648.9 499.76 L1650.9 500.26 L1652.8 500.78 L1654.7 501.35 L1656.6 501.94 L1658.5 502.58 L1660.4 503.26 L1662.3 503.97 L1664.1 504.73 L1665.9 505.53 L1667.7 506.38 L1669.5 507.28 L1671.2 508.23 L1672.9 509.24 L1674.6 510.31 L1676.3 511.43 L1677.9 512.60 L1679.4 513.81 L1681.0 515.06 L1682.5 516.36 L1683.9 517.69 L1685.3 519.07 L1686.7 520.48 L1688.1 521.92 L1689.4 523.38 L1690.7 524.86 L1691.9 526.37 L1693.2 527.91 L1694.3 529.49 L1695.4 531.10 L1696.5 532.73 L1697.6 534.38 L1698.6 536.03 L1699.7 537.69 L1700.7 539.35 L1701.7 541.01 L1702.8 542.67 L1703.8 544.34 L1704.8 546.01 L1705.8 547.68 L1706.8 549.36 L1707.8 551.03 L1708.8 552.71 L1709.9 554.39 L1710.9 556.07 L1711.9 557.74 L1712.9 559.40 L1714.0 561.05 L1715.0 562.68 L1716.2 564.29 L1717.3 565.87 L1718.5 567.44 L1719.7 568.99 L1720.9 570.54 L1722.2 572.06 L1723.4 573.56 L1724.7 575.01 L1726.1 576.40 L1727.6 577.69 L1729.2 578.87 L1730.9 579.89 L1732.7 580.72 L1734.6 581.37 L1736.5 581.85 L1738.5 582.18 L1740.5 582.37 L1742.5 582.40 L1744.4 582.26 L1746.4 581.91 L1748.3 581.36 L1750.1 580.62 L1751.9 579.76 L1753.7 578.86 L1755.5 578.03 L1757.3 577.33 L1759.2 576.77 L1761.2 576.37 L1763.1 576.13 L1765.1 576.08 L1767.1 576.25 L1769.0 576.70 L1770.7 577.50 L1772.3 578.63 L1773.6 580.02 L1774.8 581.58 L1775.8 583.24 L1776.7 584.96 L1777.6 586.71 L1778.4 588.47 L1779.2 590.24 L1780.0 592.02 L1780.8 593.82 L1781.5 595.62 L1782.2 597.43 L1782.9 599.25 L1783.7 601.06 L1784.4 602.87 L1785.1 604.67 L1785.9 606.47 L1786.6 608.27 L1787.4 610.06 L1788.2 611.85 L1789.0 613.63 L1789.7 615.42 L1790.5 617.22 L1791.2 619.03 L1791.9 620.85 L1792.6 622.67 L1793.3 624.51 L1793.9 626.35 L1794.6 628.19 L1795.2 630.04 L1795.8 631.89 L1796.4 633.74 L1797.0 635.59 L1797.6 637.45 L1798.1 639.31 L1798.7 641.16 L1799.3 643.02 L1799.9 644.88 L1800.5 646.74 L1801.0 648.60 L1801.6 650.46 L1802.2 652.32 L1802.8 654.18 L1803.4 656.03 L1803.9 657.89 L1804.5 659.75 L1805.1 661.60 L1805.7 663.46 L1806.3 665.32 L1806.9 667.17 L1807.5 669.03 L1808.1 670.89 L1808.6 672.74 L1809.2 674.60 L1809.8 676.45 L1810.4 678.31 L1811.0 680.16 L1811.6 682.02 L1812.2 683.87 L1812.8 685.72 L1813.4 687.58 L1814.0 689.43 L1814.6 691.28 L1815.2 693.13 L1815.8 694.98 L1816.4 696.82 L1817.1 698.67 L1817.7 700.50 L1818.4 702.33 L1819.1 704.15 L1819.8 705.97 L1820.5 707.77 L1821.3 709.57 L1822.0 711.37 L1822.8 713.16 L1823.6 714.95 L1824.4 716.72 L1825.3 718.47 L1826.2 720.20 L1827.1 721.92 L1828.1 723.61 L1829.1 725.26 L1830.2 726.81 L1831.6 728.22 L1833.1 729.37 L1834.8 730.10 L1836.5 730.25 L1838.2 729.78 L1839.8 728.75 L1841.0 727.34 L1842.0 725.70 L1842.8 723.95 L1843.4 722.12 L1843.9 720.26 L1844.4 718.38 L1844.9 716.49 L1845.3 714.59 L1845.7 712.69 L1846.1 710.78 L1846.4 708.87 L1846.8 706.96 L1847.1 705.05 L1847.5 703.13 L1847.8 701.22 L1848.1 699.30 L1848.4 697.38 L1848.6 695.45 L1848.9 693.53 L1849.2 691.60 L1849.4 689.68 L1849.7 687.75 L1849.9 685.83 L1850.2 683.90 L1850.4 681.97 L1850.6 680.03 L1850.8 678.10 L1851.0 676.17 L1851.2 674.24 L1851.4 672.31 L1851.6 670.37 L1851.8 668.44 L1852.0 666.51 L1852.2 664.58 L1852.4 662.64 L1852.6 660.71 L1852.8 658.78 L1853.0 656.85 L1853.2 654.92 L1853.4 652.98 L1853.6 651.05 L1853.8 649.12 L1854.0 647.19 L1854.2 645.25 L1854.4 643.32 L1854.6 641.39 L1854.8 639.46 L1855.0 637.52 L1855.1 635.59 L1855.3 633.66 L1855.5 631.73 L1855.7 629.79 L1855.9 627.86 L1856.1 625.93 L1856.3 624.00 L1856.5 622.06 L1856.7 620.13 L1856.9 618.19 L1857.0 616.26 L1857.2 614.32 L1857.4 612.39 L1857.5 610.45 L1857.6 608.51 L1857.8 606.58 L1857.9 604.64 L1858.0 602.70 L1858.1 600.76 L1858.2 598.82 L1858.3 596.88 L1858.4 594.94 L1858.5 593.00 L1858.7 591.07 L1858.8 589.13 L1859.0 587.19 L1859.1 585.26 L1859.3 583.32 L1859.4 581.39 L1859.6 579.45 L1859.8 577.52 L1860.0 575.58 L1860.2 573.65 L1860.4 571.72 L1860.6 569.79 L1860.8 567.86 L1861.0 565.93 L1861.3 564.00 L1861.5 562.07 L1861.8 560.14 L1862.0 558.22 L1862.3 556.29 L1862.5 554.37 L1862.8 552.44 L1863.1 550.52 L1863.4 548.60 L1863.6 546.67 L1863.9 544.75 L1864.2 542.83 L1864.5 540.92 L1864.9 539.00 L1865.2 537.08 L1865.5 535.17 L1865.9 533.26 L1866.3 531.36 L1866.7 529.46 L1867.1 527.56 L1867.6 525.67 L1868.1 523.78 L1868.6 521.90 L1869.1 520.02 L1869.6 518.15 L1870.2 516.29 L1870.8 514.44 L1871.4 512.59 L1872.1 510.76 L1872.8 508.94 L1873.5 507.13 L1874.3 505.36 L1875.1 503.61 L1876.1 501.89 L1877.1 500.20 L1878.1 498.56 L1879.3 496.98 L1880.6 495.49 L1882.0 494.09 L1883.5 492.79 L1885.1 491.59 L1886.7 490.52 L1888.5 489.59 L1890.3 488.82 L1892.2 488.20 L1894.1 487.71 L1896.1 487.32 L1898.1 487.01 L1900.0 486.75 L1902.0 486.55 L1904.0 486.39 L1906.0 486.26 L1908.0 486.14 L1910.0 486.03 L1912.0 485.93 L1914.0 485.83 L1916.0 485.74 L1918.0 485.66 L1920.0 485.59 L1922.0 485.52 L1924.0 485.47 L1926.0 485.42 L1928.0 485.37 L1930.0 485.32 L1932.0 485.27 L1934.0 485.22 L1936.0 485.17 L1938.0 485.13 L1940.0 485.09 L1942.0 485.05 L1944.0 485.02 L1946.0 484.99 L1948.0 484.96 L1950.0 484.94 L1952.0 484.92 L1954.0 484.90 L1956.0 484.88 L1958.0 484.86 L1960.0 484.84 L1962.0 484.82 L1964.0 484.80 L1966.0 484.78 L1968.0 484.77 L1970.0 484.75 L1972.0 484.73 L1974.0 484.72 L1976.0 484.71 L1978.0 484.69 L1980.0 484.68 L1982.0 484.67 L1984.0 484.66 L1986.0 484.66 L1988.0 484.65 L1990.0 484.64 L1992.0 484.63 L1994.0 484.63 L1996.0 484.62 L1998.0 484.61 L2000.0 484.60 L2002.0 484.60 L2004.0 484.59 L2006.0 484.58 L2008.0 484.58 L2010.0 484.57 L2012.0 484.56 L2014.0 484.55 L2016.0 484.55 L2018.0 484.54 L2020.0 484.53 L2022.0 484.53 L2024.0 484.52 L2026.0 484.51 L2028.0 484.51 L2030.0 484.50 L2032.0 484.49 L2034.0 484.49 L2036.0 484.48 L2038.0 484.47 L2040.0 484.47 L2042.0 484.46 L2044.0 484.45 L2046.0 484.45 L2048.0 484.44 L2050.0 484.43 L2052.0 484.43 L2054.0 484.42 L2056.0 484.42 L2058.0 484.41 L2060.0 484.40 L2062.0 484.40 L2064.0 484.39 L2066.0 484.38 L2067.9 484.38 L2069.9 484.37 L2071.0 484.37" stroke="#ff00ff"/>
<path d="M254.7 102.43 L254.7 54.08 L257.6 54.08 L257.8 56.01 L257.9 57.95 L258.1 59.89 L258.3 61.82 L258.4 63.76 L258.6 65.69 L258.8 67.63 L258.9 69.56 L259.1 71.50 L259.3 73.43 L259.5 75.37 L259.7 77.30 L259.8 79.24 L260.0 81.17 L260.2 83.10 L260.4 85.04 L260.6 86.97 L260.8 88.91 L261.0 90.84 L261.2 92.77 L261.4 94.71 L261.6 96.64 L261.8 98.57 L262.0 100.50 L262.2 102.43 L262.4 104.37 L262.6 106.30 L262.9 108.22 L263.1 110.15 L263.4 112.08 L263.6 114.01 L263.9 115.93 L264.1 117.86 L264.4 119.78 L264.7 121.71 L265.0 123.63 L265.2 125.55 L265.5 127.47 L265.8 129.40 L266.1 131.32 L266.4 133.24 L266.7 135.16 L267.0 137.08 L267.3 139.00 L267.6 140.92 L267.9 142.84 L268.2 144.76 L268.5 146.68 L268.9 148.60 L269.2 150.51 L269.5 152.43 L269.9 154.34 L270.2 156.25 L270.6 158.17 L270.9 160.08 L271.3 161.99 L271.6 163.90 L272.0 165.82 L272.3 167.72 L272.7 169.63 L273.1 171.54 L273.5 173.44 L273.9 175.34 L274.3 177.24 L274.8 179.13 L275.2 181.03 L275.7 182.92 L276.1 184.81 L276.6 186.70 L277.1 188.58 L277.6 190.46 L278.2 192.32 L278.8 194.17 L279.4 196.00 L280.2 197.82 L280.9 199.62 L281.7 201.40 L282.6 203.15 L283.5 204.87 L284.5 206.56 L285.5 208.23 L286.6 209.87 L287.7 211.46 L288.9 213.00 L290.3 214.44 L291.7 215.77 L293.4 216.93 L295.1 217.92 L296.9 218.72 L298.8 219.38 L300.7 219.91 L302.6 220.37 L304.6 220.75 L306.6 221.08 L308.5 221.35 L310.5 221.59 L312.5 221.79 L314.5 221.98 L316.5 222.15 L318.5 222.30 L320.5 222.45 L322.5 222.58 L324.5 222.71 L326.5 222.84 L328.5 222.97 L330.5 223.09 L332.5 223.22 L334.5 223.34 L336.5 223.45 L338.5 223.57 L340.5 223.68 L342.5 223.79 L344.5 223.89 L346.5 223.99 L348.5 224.09 L350.5 224.18 L352.4 224.28 L354.4 224.38 L356.4 224.47 L358.4 224.57 L360.4 224.67 L362.4 224.76 L364.4 224.86 L366.4 224.95 L368.4 225.05 L370.4 225.14 L372.4 225.24 L374.4 225.34 L376.4 225.43 L378.4 225.53 L380.4 225.62 L382.4 225.72 L384.4 225.82 L386.4 225.91 L388.4 226.01 L390.4 226.11 L392.4 226.21 L394.4 226.30 L396.4 226.40 L398.4 226.50 L400.4 226.60 L402.4 226.70 L404.4 226.80 L406.4 226.90 L408.4 227.00 L410.4 227.09 L412.4 227.19 L414.4 227.29 L416.4 227.39 L418.4 227.49 L420.4 227.59 L422.4 227.69 L424.4 227.79 L426.4 227.89 L428.4 227.99 L430.4 228.09 L432.4 228.19 L434.4 228.29 L436.4 228.39 L438.4 228.49 L440.4 228.59 L442.4 228.69 L444.4 228.80 L446.4 228.90 L448.4 229.00 L450.4 229.10 L452.4 229.20 L454.4 229.31 L456.4 229.41 L458.3 229.52 L460.3 229.63 L462.3 229.74 L464.3 229.85 L466.3 229.97 L468.3 230.08 L470.3 230.20 L472.3 230.32 L474.3 230.44 L476.3 230.55 L478.3 230.67 L480.3 230.79 L482.3 230.90 L484.3 231.02 L486.3 231.13 L488.3 231.24 L490.3 231.35 L492.3 231.46 L494.3 231.56 L496.3 231.66 L498.3 231.76 L500.3 231.86 L502.3 231.95 L504.3 232.04 L506.3 232.13 L508.3 232.22 L510.3 232.32 L512.3 232.41 L514.3 232.50 L516.3 232.59 L518.3 232.68 L520.3 232.77 L522.3 232.86 L524.3 232.95 L526.3 233.04 L528.3 233.13 L530.3 233.22 L532.3 233.31 L534.3 233.40 L536.3 233.49 L538.3 233.58 L540.3 233.68 L542.3 233.77 L544.3 233.86 L546.3 233.96 L548.3 234.05 L550.3 234.14 L552.3 234.24 L554.3 234.33 L556.3 234.43 L558.3 234.52 L560.3 234.61 L562.2 234.71 L564.2 234.80 L566.2 234.89 L568.2 234.99 L570.2 235.08 L572.2 235.17 L574.2 235.27 L576.2 235.36 L578.2 235.45 L580.2 235.54 L582.2 235.64 L584.2 235.73 L586.2 235.82 L588.2 235.91 L590.2 236.00 L592.2 236.09 L594.2 236.18 L596.2 236.26 L598.2 236.35 L600.2 236.44 L602.2 236.52 L604.2 236.60 L606.2 236.68 L608.2 236.76 L610.2 236.83 L612.2 236.90 L614.2 236.97 L616.2 237.04 L618.2 237.11 L620.2 237.17 L622.2 237.23 L624.2 237.29 L626.2 237.35 L628.2 237.40 L630.2 237.46 L632.2 237.51 L634.2 237.56 L636.2 237.61 L638.2 237.65 L640.2 237.70 L642.2 237.74 L644.2 237.79 L646.2 237.83 L648.2 237.87 L650.2 237.91 L652.2 237.95 L654.2 237.99 L656.2 238.02 L658.2 238.06 L660.2 238.10 L662.2 238.13 L664.2 238.17 L666.2 238.20 L668.2 238.23 L670.2 238.27 L672.2 238.30 L674.2 238.33 L676.2 238.36 L678.2 238.39 L680.2 238.43 L682.2 238.46 L684.2 238.49 L686.2 238.52 L688.2 238.56 L690.2 238.59 L692.2 238.62 L694.2 238.66 L696.2 238.69 L698.2 238.72 L700.2 238.76 L702.2 238.79 L704.2 238.83 L706.2 238.87 L708.2 238.90 L710.2 238.94 L712.2 238.97 L714.2 239.01 L716.2 239.04 L718.2 239.08 L720.2 239.11 L722.2 239.15 L724.2 239.18 L726.2 239.22 L728.2 239.25 L730.2 239.29 L732.2 239.32 L734.2 239.36 L736.2 239.39 L738.2 239.43 L740.2 239.46 L742.2 239.50 L744.2 239.53 L746.2 239.57 L748.2 239.61 L750.2 239.64 L752.2 239.68 L754.2 239.71 L756.2 239.75 L758.2 239.78 L760.2 239.82 L762.2 239.85 L764.2 239.89 L766.2 239.92 L768.2 239.96 L770.2 239.99 L772.2 240.03 L774.2 240.06 L776.2 240.10 L778.2 240.13 L780.2 240.17 L782.2 240.20 L784.2 240.24 L786.2 240.27 L788.2 240.31 L790.2 240.34 L792.2 240.38 L794.2 240.41 L796.2 240.45 L798.2 240.48 L800.2 240.52 L802.2 240.55 L804.2 240.59 L806.3 240.62 L808.3 240.65 L810.3 240.69 L812.3 240.72 L814.3 240.76 L816.3 240.79 L818.3 240.83 L820.3 240.86 L822.3 240.90 L824.3 240.93 L826.3 240.96 L828.3 241.00 L830.3 241.03 L832.3 241.07 L834.3 241.10 L836.3 241.13 L838.3 241.17 L840.3 241.20 L842.3 241.24 L844.3 241.27 L846.3 241.30 L848.3 241.34 L850.3 241.37 L852.3 241.41 L854.3 241.44 L856.3 241.48 L858.3 241.51 L860.3 241.54 L862.3 241.58 L864.3 241.61 L866.3 241.65 L868.3 241.68 L870.3 241.72 L872.3 241.75 L874.3 241.78 L876.3 241.82 L878.3 241.85 L880.3 241.89 L882.3 241.92 L884.3 241.96 L886.3 241.99 L888.3 242.03 L890.3 242.06 L892.3 242.10 L894.3 242.13 L896.3 242.17 L898.3 242.20 L900.3 242.24 L902.3 242.28 L904.3 242.31 L906.3 242.36 L908.3 242.40 L910.3 242.44 L912.3 242.49 L914.3 242.53 L916.3 242.58 L918.3 242.63 L920.3 242.68 L922.3 242.73 L924.3 242.79 L926.3 242.84 L928.3 242.90 L930.3 242.95 L932.3 243.01 L934.3 243.07 L936.3 243.13 L938.3 243.19 L940.3 243.25 L942.3 243.31 L944.3 243.37 L946.3 243.43 L948.3 243.49 L950.3 243.55 L952.3 243.62 L954.3 243.68 L956.3 243.74 L958.3 243.80 L960.3 243.87 L962.3 243.93 L964.3 243.99 L966.3 244.05 L968.3 244.11 L970.3 244.17 L972.3 244.23 L974.3 244.29 L976.3 244.35 L978.3 244.41 L980.3 244.46 L982.3 244.52 L984.3 244.57 L986.3 244.63 L988.3 244.68 L990.3 244.73 L992.3 244.78 L994.3 244.83 L996.3 244.88 L998.3 244.92 L1000.3 244.97 L1002.3 245.01 L1004.3 245.05 L1006.3 245.10 L1008.3 245.14 L1010.3 245.18 L1012.3 245.22 L1014.3 245.27 L1016.3 245.31 L1018.3 245.35 L1020.3 245.39 L1022.3 245.43 L1024.3 245.47 L1026.3 245.51 L1028.3 245.55 L1030.3 245.59 L1032.3 245.63 L1034.3 245.66 L1036.3 245.70 L1038.3 245.74 L1040.3 245.78 L1042.3 245.82 L1044.3 245.86 L1046.3 245.90 L1048.3 245.94 L1050.3 245.98 L1052.3 246.01 L1054.3 246.05 L1056.3 246.09 L1058.3 246.13 L1060.3 246.17 L1062.3 246.21 L1064.3 246.25 L1066.3 246.29 L1068.3 246.33 L1070.3 246.37 L1072.3 246.41 L1074.3 246.45 L1076.3 246.49 L1078.3 246.54 L1080.3 246.58 L1082.3 246.62 L1084.3 246.66 L1086.3 246.71 L1088.3 246.75 L1090.3 246.79 L1092.3 246.84 L1094.3 246.88 L1096.3 246.93 L1098.3 246.97 L1100.3 247.02 L1102.3 247.07 L1104.3 247.11 L1106.3 247.16 L1108.3 247.21 L1110.3 247.25 L1112.3 247.30 L1114.3 247.35 L1116.3 247.39 L1118.3 247.44 L1120.3 247.48 L1122.3 247.53 L1124.3 247.58 L1126.3 247.62 L1128.3 247.67 L1130.3 247.72 L1132.3 247.76 L1134.3 247.81 L1136.3 247.86 L1138.3 247.90 L1140.3 247.95 L1142.3 248.00 L1144.3 248.04 L1146.3 248.09 L1148.3 248.14 L1150.3 248.18 L1152.3 248.23 L1154.3 248.28 L1156.3 248.32 L1158.3 248.37 L1160.3 248.42 L1162.3 248.46 L1164.3 248.51 L1166.3 248.56 L1168.3 248.61 L1170.3 248.65 L1172.3 248.70 L1174.3 248.75 L1176.3 248.79 L1178.3 248.84 L1180.3 248.89 L1182.3 248.94 L1184.3 248.98 L1186.3 249.03 L1188.3 249.08 L1190.3 249.13 L1192.3 249.17 L1194.3 249.22 L1196.3 249.27 L1198.3 249.32 L1200.3 249.36 L1202.3 249.41 L1204.3 249.46 L1206.3 249.51 L1208.3 249.55 L1210.3 249.60 L1212.3 249.65 L1214.3 249.70 L1216.3 249.75 L1218.3 249.79 L1220.3 249.84 L1222.3 249.89 L1224.3 249.94 L1226.3 249.98 L1228.3 250.03 L1230.3 250.08 L1232.3 250.13 L1234.3 250.18 L1236.3 250.22 L1238.3 250.27 L1240.3 250.32 L1242.3 250.37 L1244.3 250.42 L1246.3 250.46 L1248.3 250.51 L1250.3 250.56 L1252.3 250.61 L1254.3 250.65 L1256.3 250.70 L1258.3 250.75 L1260.3 250.80 L1262.3 250.85 L1264.3 250.89 L1266.3 250.94 L1268.3 250.99 L1270.3 251.04 L1272.3 251.09 L1274.3 251.13 L1276.3 251.18 L1278.3 251.23 L1280.3 251.28 L1282.3 251.32 L1284.3 251.37 L1286.3 251.42 L1288.3 251.47 L1290.3 251.52 L1292.3 251.56 L1294.3 251.61 L1296.3 251.66 L1298.3 251.71 L1300.3 251.75 L1302.3 251.80 L1304.3 251.85 L1306.3 251.90 L1308.3 251.94 L1310.3 251.99 L1312.3 252.04 L1314.3 252.09 L1316.3 252.13 L1318.3 252.18 L1320.3 252.23 L1322.3 252.27 L1324.3 252.32 L1326.3 252.37 L1328.3 252.41 L1330.3 252.46 L1332.3 252.51 L1334.3 252.56 L1336.3 252.60 L1338.3 252.65 L1340.3 252.70 L1342.3 252.74 L1344.3 252.79 L1346.3 252.83 L1348.3 252.88 L1350.3 252.93 L1352.3 252.97 L1354.3 253.02 L1356.3 253.07 L1358.3 253.11 L1360.3 253.16 L1362.3 253.21 L1364.3 253.25 L1366.3 253.30 L1368.3 253.35 L1370.3 253.39 L1372.3 253.44 L1374.3 253.49 L1376.3 253.53 L1378.3 253.58 L1380.3 253.63 L1382.3 253.67 L1384.3 253.72 L1386.3 253.77 L1388.3 253.81 L1390.3 253.86 L1392.3 253.91 L1394.3 253.96 L1396.3 254.00 L1398.3 254.05 L1400.3 254.10 L1402.3 254.14 L1404.3 254.19 L1406.3 254.24 L1408.3 254.29 L1410.3 254.34 L1412.3 254.39 L1414.3 254.44 L1416.3 254.49 L1418.3 254.54 L1420.3 254.59 L1422.3 254.64 L1424.3 254.69 L1426.3 254.74 L1428.3 254.79 L1430.3 254.84 L1432.3 254.89 L1434.3 254.94 L1436.3 254.99 L1438.3 255.05 L1440.3 255.10 L1442.3 255.15 L1444.3 255.20 L1446.3 255.26 L1448.3 255.31 L1450.3 255.36 L1452.3 255.42 L1454.3 255.47 L1456.3 255.52 L1458.3 255.58 L1460.3 255.63 L1462.3 255.69 L1464.3 255.74 L1466.3 255.80 L1468.3 255.85 L1470.3 255.90 L1472.3 255.96 L1474.3 256.01 L1476.3 256.07 L1478.3 256.12 L1480.3 256.18 L1482.3 256.23 L1484.3 256.29 L1486.3 256.35 L1488.3 256.40 L1490.3 256.46 L1492.3 256.51 L1494.3 256.57 L1496.3 256.62 L1498.3 256.68 L1500.3 256.74 L1502.3 256.79 L1504.3 256.85 L1506.3 256.91 L1508.3 256.97 L1510.3 257.03 L1512.3 257.10 L1514.3 257.16 L1516.3 257.22 L1518.3 257.29 L1520.3 257.35 L1522.3 257.42 L1524.3 257.49 L1526.3 257.55 L1528.3 257.62 L1530.3 257.69 L1532.3 257.75 L1534.3 257.82 L1536.3 257.89 L1538.3 257.96 L1540.3 258.02 L1542.3 258.09 L1544.3 258.15 L1546.3 258.22 L1548.3 258.29 L1550.3 258.35 L1552.3 258.41 L1554.3 258.47 L1556.3 258.52 L1558.3 258.57 L1560.3 258.61 L1562.3 258.64 L1564.3 258.67 L1566.3 258.70 L1568.3 258.73 L1570.3 258.76 L1572.3 258.78 L1574.3 258.82 L1576.3 258.86 L1578.3 258.90 L1580.3 258.95 L1582.3 259.01 L1584.3 259.09 L1586.3 259.18 L1588.3 259.28 L1590.3 259.41 L1592.3 259.57 L1594.3 259.76 L1596.3 259.97 L1598.3 260.19 L1600.2 260.41 L1602.2 260.63 L1604.2 260.84 L1606.2 261.06 L1608.2 261.28 L1610.2 261.51 L1612.2 261.73 L1614.2 261.97 L1616.1 262.21 L1618.1 262.48 L1620.1 262.79 L1622.0 263.15 L1624.0 263.58 L1625.9 264.06 L1627.9 264.59 L1629.8 265.16 L1631.7 265.78 L1633.6 266.43 L1635.4 267.13 L1637.3 267.88 L1639.1 268.68 L1640.9 269.54 L1642.7 270.44 L1644.4 271.38 L1646.2 272.36 L1647.9 273.38 L1649.6 274.43 L1651.3 275.52 L1652.9 276.64 L1654.5 277.81 L1656.0 279.04 L1657.5 280.31 L1659.0 281.63 L1660.5 282.98 L1661.9 284.36 L1663.3 285.75 L1664.7 287.15 L1666.0 288.56 L1667.4 289.98 L1668.7 291.42 L1670.1 292.87 L1671.4 294.33 L1672.7 295.80 L1674.0 297.28 L1675.3 298.77 L1676.5 300.27 L1677.8 301.76 L1679.1 303.25 L1680.4 304.74 L1681.7 306.22 L1683.0 307.68 L1684.3 309.13 L1685.7 310.58 L1687.0 312.01 L1688.4 313.43 L1689.8 314.83 L1691.2 316.20 L1692.6 317.53 L1694.1 318.79 L1695.7 320.00 L1697.3 321.13 L1699.0 322.19 L1700.8 323.15 L1702.6 323.98 L1704.5 324.66 L1706.4 325.19 L1708.4 325.57 L1710.3 325.84 L1712.3 326.01 L1714.3 326.09 L1716.3 326.09 L1718.3 326.02 L1720.3 325.91 L1722.3 325.77 L1724.3 325.62 L1726.3 325.45 L1728.3 325.27 L1730.3 325.08 L1732.3 324.89 L1734.3 324.71 L1736.3 324.56 L1738.2 324.48 L1740.2 324.59 L1742.0 325.01 L1743.8 325.80 L1745.4 326.93 L1746.7 328.28 L1748.0 329.78 L1749.1 331.37 L1750.2 333.01 L1751.2 334.69 L1752.1 336.39 L1753.1 338.12 L1754.0 339.85 L1754.9 341.59 L1755.7 343.35 L1756.6 345.11 L1757.4 346.88 L1758.2 348.65 L1759.0 350.44 L1759.7 352.24 L1760.5 354.03 L1761.2 355.83 L1762.0 357.63 L1762.8 359.42 L1763.6 361.21 L1764.3 363.00 L1765.1 364.79 L1765.9 366.58 L1766.7 368.37 L1767.4 370.16 L1768.2 371.95 L1769.0 373.74 L1769.8 375.54 L1770.5 377.33 L1771.3 379.12 L1772.1 380.91 L1772.8 382.71 L1773.6 384.50 L1774.4 386.30 L1775.1 388.10 L1775.9 389.90 L1776.6 391.70 L1777.3 393.51 L1778.1 395.32 L1778.8 397.13 L1779.5 398.93 L1780.3 400.73 L1781.1 402.53 L1781.8 404.32 L1782.6 406.12 L1783.3 407.91 L1784.1 409.72 L1784.8 411.53 L1785.5 413.35 L1786.2 415.17 L1786.9 416.99 L1787.6 418.82 L1788.3 420.65 L1788.9 422.48 L1789.6 424.30 L1790.3 426.12 L1791.0 427.94 L1791.8 429.75 L1792.5 431.55 L1793.2 433.35 L1794.0 435.15 L1794.7 436.95 L1795.5 438.75 L1796.3 440.55 L1797.0 442.35 L1797.8 444.15 L1798.5 445.94 L1799.3 447.74 L1800.0 449.54 L1800.8 451.34 L1801.6 453.13 L1802.3 454.93 L1803.1 456.73 L1803.8 458.52 L1804.6 460.32 L1805.4 462.11 L1806.2 463.89 L1807.0 465.66 L1807.8 467.41 L1808.7 469.14 L1809.7 470.85 L1810.7 472.54 L1811.7 474.18 L1812.9 475.73 L1814.2 477.16 L1815.7 478.40 L1817.4 479.39 L1819.2 480.05 L1821.1 480.32 L1823.0 480.13 L1824.8 479.46 L1826.3 478.34 L1827.6 476.88 L1828.5 475.21 L1829.2 473.43 L1829.8 471.59 L1830.2 469.71 L1830.7 467.82 L1831.1 465.92 L1831.5 464.01 L1831.8 462.10 L1832.1 460.18 L1832.4 458.26 L1832.7 456.34 L1832.9 454.41 L1833.2 452.48 L1833.4 450.56 L1833.7 448.63 L1833.9 446.70 L1834.2 444.77 L1834.4 442.84 L1834.6 440.91 L1834.8 438.98 L1835.0 437.05 L1835.2 435.12 L1835.4 433.18 L1835.6 431.25 L1835.8 429.32 L1836.0 427.38 L1836.2 425.45 L1836.4 423.52 L1836.6 421.58 L1836.8 419.65 L1837.0 417.72 L1837.2 415.79 L1837.4 413.85 L1837.6 411.92 L1837.8 409.99 L1838.0 408.05 L1838.2 406.12 L1838.4 404.19 L1838.6 402.26 L1838.8 400.32 L1839.0 398.39 L1839.2 396.46 L1839.4 394.52 L1839.6 392.59 L1839.8 390.66 L1840.0 388.73 L1840.2 386.79 L1840.4 384.86 L1840.6 382.93 L1840.8 380.99 L1841.0 379.06 L1841.2 377.13 L1841.4 375.19 L1841.6 373.26 L1841.8 371.33 L1842.0 369.40 L1842.2 367.46 L1842.4 365.53 L1842.6 363.60 L1842.8 361.67 L1843.0 359.74 L1843.2 357.81 L1843.5 355.88 L1843.8 353.96 L1844.1 352.04 L1844.4 350.11 L1844.6 348.19 L1844.9 346.26 L1845.1 344.33 L1845.3 342.40 L1845.5 340.47 L1845.7 338.53 L1845.9 336.60 L1846.0 334.66 L1846.2 332.73 L1846.5 330.80 L1846.7 328.87 L1846.9 326.94 L1847.2 325.01 L1847.4 323.09 L1847.7 321.16 L1847.9 319.23 L1848.2 317.31 L1848.4 315.38 L1848.7 313.45 L1849.0 311.53 L1849.2 309.60 L1849.5 307.67 L1849.7 305.75 L1850.0 303.82 L1850.2 301.89 L1850.5 299.96 L1850.7 298.04 L1851.0 296.11 L1851.3 294.19 L1851.6 292.27 L1851.9 290.36 L1852.3 288.46 L1852.8 286.57 L1853.3 284.68 L1853.8 282.80 L1854.3 280.92 L1854.8 279.04 L1855.3 277.17 L1855.9 275.31 L1856.5 273.45 L1857.1 271.61 L1857.8 269.78 L1858.5 267.97 L1859.3 266.19 L1860.2 264.45 L1861.1 262.74 L1862.1 261.08 L1863.3 259.47 L1864.5 257.94 L1865.9 256.52 L1867.4 255.23 L1869.0 254.09 L1870.7 253.12 L1872.5 252.33 L1874.4 251.72 L1876.3 251.24 L1878.3 250.86 L1880.3 250.57 L1882.3 250.33 L1884.3 250.15 L1886.2 250.00 L1888.2 249.88 L1890.2 249.77 L1892.2 249.66 L1894.2 249.56 L1896.2 249.47 L1898.2 249.38 L1900.2 249.31 L1902.2 249.24 L1904.2 249.17 L1906.2 249.11 L1908.2 249.05 L1910.2 248.99 L1912.2 248.93 L1914.2 248.88 L1916.2 248.83 L1918.2 248.79 L1920.2 248.75 L1922.2 248.71 L1924.2 248.68 L1926.2 248.65 L1928.2 248.61 L1930.2 248.58 L1932.2 248.55 L1934.2 248.52 L1936.2 248.49 L1938.2 248.46 L1940.2 248.43 L1942.2 248.40 L1944.2 248.36 L1946.2 248.33 L1948.2 248.30 L1950.2 248.27 L1952.2 248.24 L1954.2 248.21 L1956.2 248.18 L1958.2 248.15 L1960.2 248.12 L1962.2 248.09 L1964.2 248.06 L1966.2 248.03 L1968.2 248.00 L1970.2 247.97 L1972.2 247.94 L1974.2 247.91 L1976.2 247.88 L1978.2 247.85 L1980.2 247.82 L1982.2 247.79 L1984.2 247.76 L1986.2 247.73 L1988.2 247.70 L1990.2 247.67 L1992.2 247.65 L1994.2 247.62 L1996.2 247.59 L1998.2 247.57 L2000.2 247.54 L2002.2 247.52 L2004.2 247.50 L2006.3 247.48 L2008.3 247.46 L2010.3 247.44 L2012.3 247.42 L2014.3 247.40 L2016.3 247.38 L2018.3 247.36 L2020.3 247.34 L2022.3 247.32 L2024.3 247.30 L2026.3 247.28 L2028.3 247.26 L2030.3 247.24 L2032.3 247.22 L2034.3 247.20 L2036.3 247.18 L2038.3 247.15 L2040.3 247.12 L2042.3 247.08 L2044.3 247.04 L2046.3 246.97 L2048.3 246.90 L2050.3 246.80 L2052.3 246.67 L2054.2 246.50 L2056.2 246.28 L2058.2 246.00 L2060.2 245.69 L2062.2 245.35 L2064.1 245.00 L2066.1 244.64 L2068.0 244.29 L2069.9 243.90 L2071.0 243.69" stroke="#008400"/>
</g></g>
<rect x="209" y="43.3" width="2032" height="7.6" fill="#b4b4b4"/>
<rect x="209" y="45" width="2032" height="4" fill="#000"/>
<rect x="209" y="45" width="2.2" height="1287.7" fill="#707070"/>
<rect x="210.6" y="45" width="4.6" height="1287.7" fill="#000"/>
<rect x="210" y="1332.7" width="5.1" height="213.3" fill="#000"/>
<rect x="2234.8" y="45" width="6.1" height="1287.7" fill="#333"/>
<rect x="2236" y="45" width="3" height="1287.7" fill="#000"/>
<rect x="2233.9" y="1332.7" width="5" height="213.3" fill="#000"/>
<rect x="210" y="1541" width="2029" height="4.8" fill="#000"/>
<path d="M322.50 1542 V1515.0" stroke="#000" stroke-width="4.6" stroke-linecap="round" fill="none"/>
<path d="M469.75 1542 V1529.0" stroke="#000" stroke-width="4.6" stroke-linecap="round" fill="none"/>
<path d="M617.00 1542 V1515.0" stroke="#000" stroke-width="4.6" stroke-linecap="round" fill="none"/>
<path d="M764.25 1542 V1529.0" stroke="#000" stroke-width="4.6" stroke-linecap="round" fill="none"/>
<path d="M911.50 1542 V1515.0" stroke="#000" stroke-width="4.6" stroke-linecap="round" fill="none"/>
<path d="M1058.75 1542 V1529.0" stroke="#000" stroke-width="4.6" stroke-linecap="round" fill="none"/>
<path d="M1206.00 1542 V1515.0" stroke="#000" stroke-width="4.6" stroke-linecap="round" fill="none"/>
<path d="M1353.25 1542 V1529.0" stroke="#000" stroke-width="4.6" stroke-linecap="round" fill="none"/>
<path d="M1500.50 1542 V1515.0" stroke="#000" stroke-width="4.6" stroke-linecap="round" fill="none"/>
<path d="M1647.75 1542 V1529.0" stroke="#000" stroke-width="4.6" stroke-linecap="round" fill="none"/>
<path d="M1795.00 1542 V1515.0" stroke="#000" stroke-width="4.6" stroke-linecap="round" fill="none"/>
<path d="M1942.25 1542 V1529.0" stroke="#000" stroke-width="4.6" stroke-linecap="round" fill="none"/>
<path d="M2089.50 1542 V1515.0" stroke="#000" stroke-width="4.6" stroke-linecap="round" fill="none"/>
</svg>
</body>
</html>
